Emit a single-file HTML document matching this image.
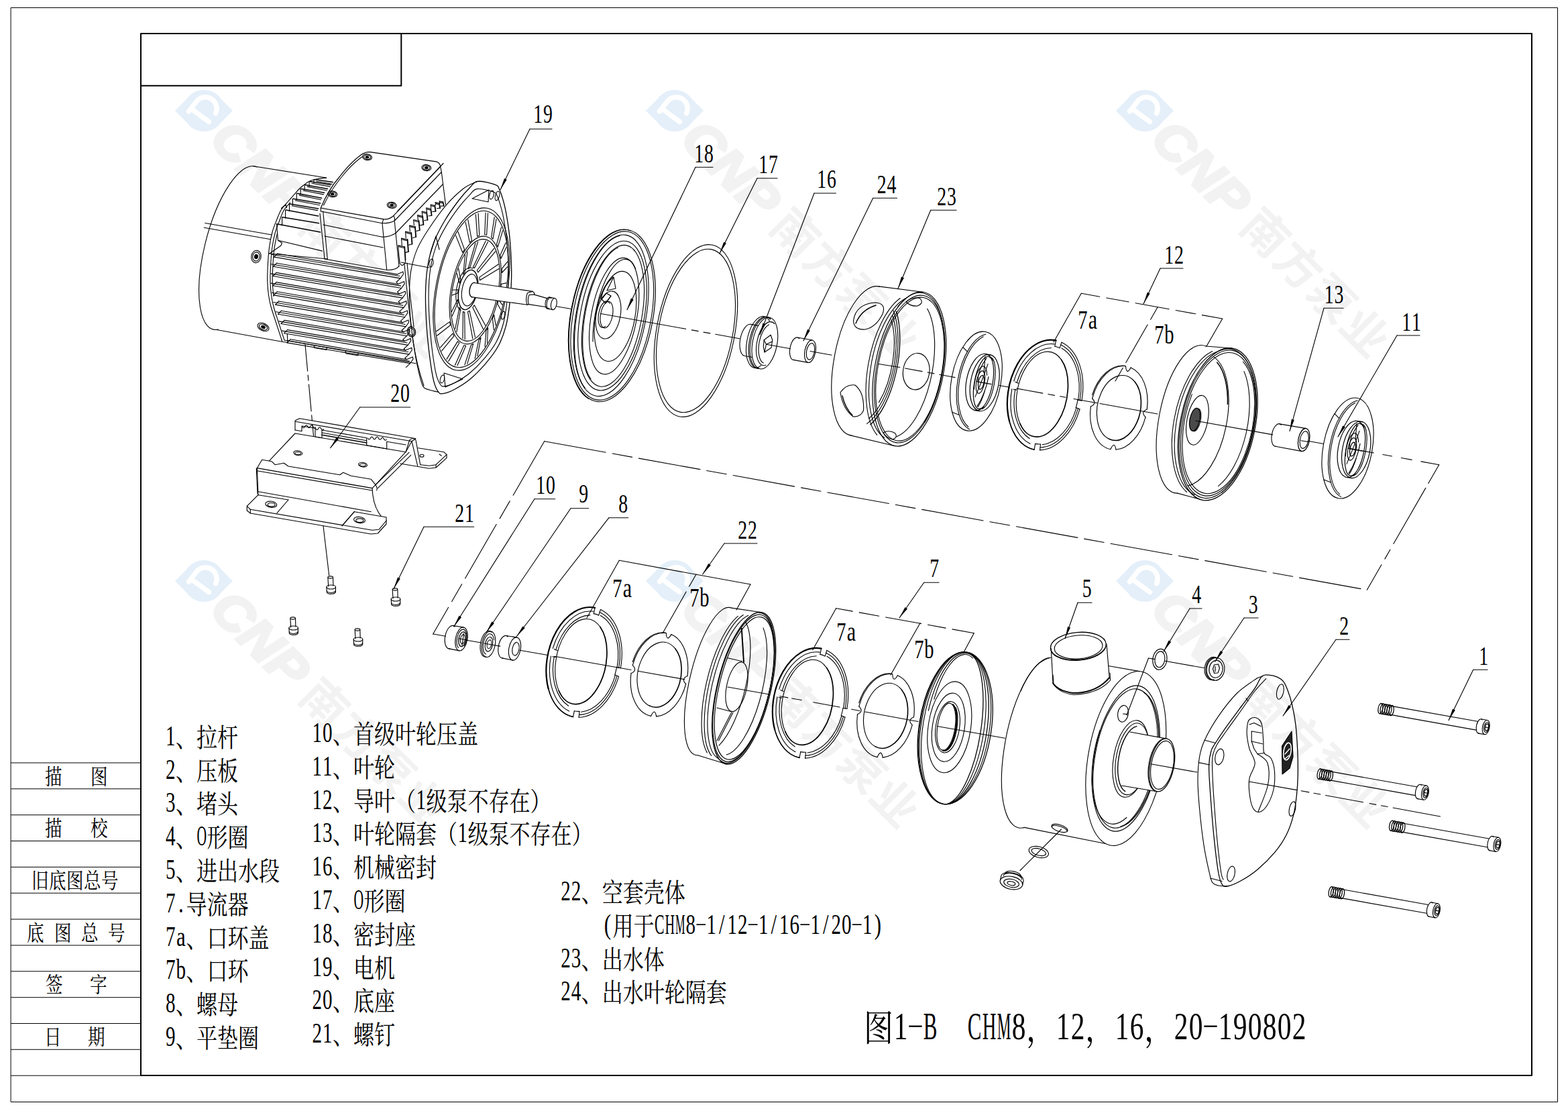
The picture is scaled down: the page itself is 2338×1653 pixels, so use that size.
<!DOCTYPE html><html><head><meta charset="utf-8"><title>CHM8,12,16,20 exploded view</title><style>html,body{margin:0;padding:0;background:#fff}svg{display:block}text{font-family:"Liberation Serif",serif;fill:#000;stroke:none}text.cj{font-family:"Liberation Serif","Noto Serif CJK SC",serif}</style></head><body><svg width="2338" height="1653" viewBox="0 0 2338 1653" fill="none" stroke="#000" stroke-width="1.12" stroke-linecap="round" stroke-linejoin="round"><rect width="2338" height="1653" fill="#fff" stroke="none"/><g transform="translate(304 165)" stroke="none">
<g fill="#e4eff9"><circle r="31"/><path d="M-43 0L-21.5 -21.5L-25.8 17.2Z"/><path d="M43 0L21.5 21.5L25.8 -17.2Z"/></g>
<path d="M-22.5 1L-9.8 -15.3A17 17 0 0 1 17.6 3.9M-16.5 -1L7.5 16.5" stroke="#fff" stroke-width="7.4" fill="none"/>
<g class="wm" transform="rotate(45)">
<text x="36" y="28" font-size="75" style="font-family:'Liberation Sans',sans-serif;font-weight:bold;font-style:italic;fill:#f2f2f2;stroke:#f2f2f2;stroke-width:4px;stroke-linejoin:miter" textLength="170" lengthAdjust="spacingAndGlyphs">CNP</text>
<text x="222" y="26" font-size="68" textLength="278" style="font-family:'Liberation Sans','Noto Sans CJK SC',sans-serif;font-weight:bold;fill:#f2f2f2">南方泵业</text>
</g></g>
<g transform="translate(1006 165)" stroke="none">
<g fill="#e4eff9"><circle r="31"/><path d="M-43 0L-21.5 -21.5L-25.8 17.2Z"/><path d="M43 0L21.5 21.5L25.8 -17.2Z"/></g>
<path d="M-22.5 1L-9.8 -15.3A17 17 0 0 1 17.6 3.9M-16.5 -1L7.5 16.5" stroke="#fff" stroke-width="7.4" fill="none"/>
<g class="wm" transform="rotate(45)">
<text x="36" y="28" font-size="75" style="font-family:'Liberation Sans',sans-serif;font-weight:bold;font-style:italic;fill:#f2f2f2;stroke:#f2f2f2;stroke-width:4px;stroke-linejoin:miter" textLength="170" lengthAdjust="spacingAndGlyphs">CNP</text>
<text x="222" y="26" font-size="68" textLength="278" style="font-family:'Liberation Sans','Noto Sans CJK SC',sans-serif;font-weight:bold;fill:#f2f2f2">南方泵业</text>
</g></g>
<g transform="translate(1707 165)" stroke="none">
<g fill="#e4eff9"><circle r="31"/><path d="M-43 0L-21.5 -21.5L-25.8 17.2Z"/><path d="M43 0L21.5 21.5L25.8 -17.2Z"/></g>
<path d="M-22.5 1L-9.8 -15.3A17 17 0 0 1 17.6 3.9M-16.5 -1L7.5 16.5" stroke="#fff" stroke-width="7.4" fill="none"/>
<g class="wm" transform="rotate(45)">
<text x="36" y="28" font-size="75" style="font-family:'Liberation Sans',sans-serif;font-weight:bold;font-style:italic;fill:#f2f2f2;stroke:#f2f2f2;stroke-width:4px;stroke-linejoin:miter" textLength="170" lengthAdjust="spacingAndGlyphs">CNP</text>
<text x="222" y="26" font-size="68" textLength="278" style="font-family:'Liberation Sans','Noto Sans CJK SC',sans-serif;font-weight:bold;fill:#f2f2f2">南方泵业</text>
</g></g>
<g transform="translate(304 866)" stroke="none">
<g fill="#e4eff9"><circle r="31"/><path d="M-43 0L-21.5 -21.5L-25.8 17.2Z"/><path d="M43 0L21.5 21.5L25.8 -17.2Z"/></g>
<path d="M-22.5 1L-9.8 -15.3A17 17 0 0 1 17.6 3.9M-16.5 -1L7.5 16.5" stroke="#fff" stroke-width="7.4" fill="none"/>
<g class="wm" transform="rotate(45)">
<text x="36" y="28" font-size="75" style="font-family:'Liberation Sans',sans-serif;font-weight:bold;font-style:italic;fill:#f2f2f2;stroke:#f2f2f2;stroke-width:4px;stroke-linejoin:miter" textLength="170" lengthAdjust="spacingAndGlyphs">CNP</text>
<text x="222" y="26" font-size="68" textLength="278" style="font-family:'Liberation Sans','Noto Sans CJK SC',sans-serif;font-weight:bold;fill:#f2f2f2">南方泵业</text>
</g></g>
<g transform="translate(1006 866)" stroke="none">
<g fill="#e4eff9"><circle r="31"/><path d="M-43 0L-21.5 -21.5L-25.8 17.2Z"/><path d="M43 0L21.5 21.5L25.8 -17.2Z"/></g>
<path d="M-22.5 1L-9.8 -15.3A17 17 0 0 1 17.6 3.9M-16.5 -1L7.5 16.5" stroke="#fff" stroke-width="7.4" fill="none"/>
<g class="wm" transform="rotate(45)">
<text x="36" y="28" font-size="75" style="font-family:'Liberation Sans',sans-serif;font-weight:bold;font-style:italic;fill:#f2f2f2;stroke:#f2f2f2;stroke-width:4px;stroke-linejoin:miter" textLength="170" lengthAdjust="spacingAndGlyphs">CNP</text>
<text x="222" y="26" font-size="68" textLength="278" style="font-family:'Liberation Sans','Noto Sans CJK SC',sans-serif;font-weight:bold;fill:#f2f2f2">南方泵业</text>
</g></g>
<g transform="translate(1707 866)" stroke="none">
<g fill="#e4eff9"><circle r="31"/><path d="M-43 0L-21.5 -21.5L-25.8 17.2Z"/><path d="M43 0L21.5 21.5L25.8 -17.2Z"/></g>
<path d="M-22.5 1L-9.8 -15.3A17 17 0 0 1 17.6 3.9M-16.5 -1L7.5 16.5" stroke="#fff" stroke-width="7.4" fill="none"/>
<g class="wm" transform="rotate(45)">
<text x="36" y="28" font-size="75" style="font-family:'Liberation Sans',sans-serif;font-weight:bold;font-style:italic;fill:#f2f2f2;stroke:#f2f2f2;stroke-width:4px;stroke-linejoin:miter" textLength="170" lengthAdjust="spacingAndGlyphs">CNP</text>
<text x="222" y="26" font-size="68" textLength="278" style="font-family:'Liberation Sans','Noto Sans CJK SC',sans-serif;font-weight:bold;fill:#f2f2f2">南方泵业</text>
</g></g>
<rect x="16.5" y="11.5" width="2306" height="1631" stroke-width="1"/>
<rect x="210" y="50" width="2074" height="1553" stroke-width="2"/>
<path d="M210 127.7H598.3V50" stroke-width="2"/>
<path d="M16.5 1137L210 1137" stroke-width="1"/>
<path d="M16.5 1175.8L210 1175.8" stroke-width="1"/>
<path d="M16.5 1214.7L210 1214.7" stroke-width="1"/>
<path d="M16.5 1253.5L210 1253.5" stroke-width="1"/>
<path d="M16.5 1292.4L210 1292.4" stroke-width="1"/>
<path d="M16.5 1331.2L210 1331.2" stroke-width="1"/>
<path d="M16.5 1370.1L210 1370.1" stroke-width="1"/>
<path d="M16.5 1409L210 1409" stroke-width="1"/>
<path d="M16.5 1447.8L210 1447.8" stroke-width="1"/>
<path d="M16.5 1486.7L210 1486.7" stroke-width="1"/>
<path d="M16.5 1525.5L210 1525.5" stroke-width="1"/>
<path d="M16.5 1564.3L210 1564.3" stroke-width="1"/>
<path d="M16.5 1603.2L210 1603.2" stroke-width="1"/>
<text class="cj" transform="translate(67 1168.5) scale(0.797 1)" x="0 85.3" font-size="32">描图</text>
<text class="cj" transform="translate(67 1246.2) scale(0.797 1)" x="0 85.3" font-size="32">描校</text>
<text class="cj" transform="translate(47 1323.9) scale(0.797 1)" x="0 32.6 65.2 97.9 130.5" font-size="32">旧底图总号</text>
<text class="cj" transform="translate(40 1401.6) scale(0.797 1)" x="0 51.4 101.6 151.8" font-size="32">底图总号</text>
<text class="cj" transform="translate(68 1479.3) scale(0.797 1)" x="0 82.8" font-size="32">签字</text>
<text class="cj" transform="translate(66 1557) scale(0.797 1)" x="0 81.6" font-size="32">日期</text>
<text transform="translate(254.2 1110.8) scale(0.701 1)" font-size="41.5" text-anchor="middle">1</text>
<text class="cj" transform="translate(262 1112.8) scale(0.8 1)" font-size="38.75">、拉杆</text>
<text transform="translate(254.2 1160.6) scale(0.701 1)" font-size="41.5" text-anchor="middle">2</text>
<text class="cj" transform="translate(262 1162.6) scale(0.8 1)" font-size="38.75">、压板</text>
<text transform="translate(254.2 1210.4) scale(0.701 1)" font-size="41.5" text-anchor="middle">3</text>
<text class="cj" transform="translate(262 1212.4) scale(0.8 1)" font-size="38.75">、堵头</text>
<text transform="translate(254.2 1260.2) scale(0.701 1)" font-size="41.5" text-anchor="middle">4</text>
<text class="cj" transform="translate(262 1262.2) scale(0.8 1)" font-size="38.75">、</text>
<text transform="translate(300.8 1260.2) scale(0.486 1)" font-size="41.5" text-anchor="middle">O</text>
<text class="cj" transform="translate(308.5 1262.2) scale(0.8 1)" font-size="38.75">形圈</text>
<text transform="translate(254.2 1310) scale(0.701 1)" font-size="41.5" text-anchor="middle">5</text>
<text class="cj" transform="translate(262 1312) scale(0.8 1)" font-size="38.75">、进出水段</text>
<text transform="translate(254.2 1359.8) scale(0.701 1)" font-size="41.5" text-anchor="middle">7</text>
<text transform="translate(269.8 1359.8) scale(0.746 1)" font-size="41.5" text-anchor="middle">.</text>
<text class="cj" transform="translate(277.5 1361.8) scale(0.8 1)" font-size="38.75">导流器</text>
<text transform="translate(254.2 1409.6) scale(0.701 1)" font-size="41.5" text-anchor="middle">7</text>
<text transform="translate(269.8 1409.6) scale(0.746 1)" font-size="41.5" text-anchor="middle">a</text>
<text class="cj" transform="translate(277.5 1411.6) scale(0.8 1)" font-size="38.75">、口环盖</text>
<text transform="translate(254.2 1459.4) scale(0.701 1)" font-size="41.5" text-anchor="middle">7</text>
<text transform="translate(269.8 1459.4) scale(0.701 1)" font-size="41.5" text-anchor="middle">b</text>
<text class="cj" transform="translate(277.5 1461.4) scale(0.8 1)" font-size="38.75">、口环</text>
<text transform="translate(254.2 1509.2) scale(0.701 1)" font-size="41.5" text-anchor="middle">8</text>
<text class="cj" transform="translate(262 1511.2) scale(0.8 1)" font-size="38.75">、螺母</text>
<text transform="translate(254.2 1559) scale(0.701 1)" font-size="41.5" text-anchor="middle">9</text>
<text class="cj" transform="translate(262 1561) scale(0.8 1)" font-size="38.75">、平垫圈</text>
<text transform="translate(472.8 1106) scale(0.701 1)" font-size="41.5" text-anchor="middle">1</text>
<text transform="translate(488.2 1106) scale(0.701 1)" font-size="41.5" text-anchor="middle">0</text>
<text class="cj" transform="translate(496 1108) scale(0.8 1)" font-size="38.75">、首级叶轮压盖</text>
<text transform="translate(472.8 1155.8) scale(0.701 1)" font-size="41.5" text-anchor="middle">1</text>
<text transform="translate(488.2 1155.8) scale(0.701 1)" font-size="41.5" text-anchor="middle">1</text>
<text class="cj" transform="translate(496 1157.8) scale(0.8 1)" font-size="38.75">、叶轮</text>
<text transform="translate(472.8 1205.6) scale(0.701 1)" font-size="41.5" text-anchor="middle">1</text>
<text transform="translate(488.2 1205.6) scale(0.701 1)" font-size="41.5" text-anchor="middle">2</text>
<text class="cj" transform="translate(496 1207.6) scale(0.8 1)" font-size="38.75">、导叶（</text>
<text transform="translate(627.8 1205.6) scale(0.701 1)" font-size="41.5" text-anchor="middle">1</text>
<text class="cj" transform="translate(635.5 1207.6) scale(0.8 1)" font-size="38.75">级泵不存在）</text>
<text transform="translate(472.8 1255.4) scale(0.701 1)" font-size="41.5" text-anchor="middle">1</text>
<text transform="translate(488.2 1255.4) scale(0.701 1)" font-size="41.5" text-anchor="middle">3</text>
<text class="cj" transform="translate(496 1257.4) scale(0.8 1)" font-size="38.75">、叶轮隔套（</text>
<text transform="translate(689.8 1255.4) scale(0.701 1)" font-size="41.5" text-anchor="middle">1</text>
<text class="cj" transform="translate(697.5 1257.4) scale(0.8 1)" font-size="38.75">级泵不存在）</text>
<text transform="translate(472.8 1305.2) scale(0.701 1)" font-size="41.5" text-anchor="middle">1</text>
<text transform="translate(488.2 1305.2) scale(0.701 1)" font-size="41.5" text-anchor="middle">6</text>
<text class="cj" transform="translate(496 1307.2) scale(0.8 1)" font-size="38.75">、机械密封</text>
<text transform="translate(472.8 1355) scale(0.701 1)" font-size="41.5" text-anchor="middle">1</text>
<text transform="translate(488.2 1355) scale(0.701 1)" font-size="41.5" text-anchor="middle">7</text>
<text class="cj" transform="translate(496 1357) scale(0.8 1)" font-size="38.75">、</text>
<text transform="translate(534.8 1355) scale(0.486 1)" font-size="41.5" text-anchor="middle">O</text>
<text class="cj" transform="translate(542.5 1357) scale(0.8 1)" font-size="38.75">形圈</text>
<text transform="translate(472.8 1404.8) scale(0.701 1)" font-size="41.5" text-anchor="middle">1</text>
<text transform="translate(488.2 1404.8) scale(0.701 1)" font-size="41.5" text-anchor="middle">8</text>
<text class="cj" transform="translate(496 1406.8) scale(0.8 1)" font-size="38.75">、密封座</text>
<text transform="translate(472.8 1454.6) scale(0.701 1)" font-size="41.5" text-anchor="middle">1</text>
<text transform="translate(488.2 1454.6) scale(0.701 1)" font-size="41.5" text-anchor="middle">9</text>
<text class="cj" transform="translate(496 1456.6) scale(0.8 1)" font-size="38.75">、电机</text>
<text transform="translate(472.8 1504.4) scale(0.701 1)" font-size="41.5" text-anchor="middle">2</text>
<text transform="translate(488.2 1504.4) scale(0.701 1)" font-size="41.5" text-anchor="middle">0</text>
<text class="cj" transform="translate(496 1506.4) scale(0.8 1)" font-size="38.75">、底座</text>
<text transform="translate(472.8 1554.2) scale(0.701 1)" font-size="41.5" text-anchor="middle">2</text>
<text transform="translate(488.2 1554.2) scale(0.701 1)" font-size="41.5" text-anchor="middle">1</text>
<text class="cj" transform="translate(496 1556.2) scale(0.8 1)" font-size="38.75">、螺钉</text>
<text transform="translate(843.5 1342) scale(0.701 1)" font-size="41.5" text-anchor="middle">2</text>
<text transform="translate(859 1342) scale(0.701 1)" font-size="41.5" text-anchor="middle">2</text>
<text class="cj" transform="translate(866.7 1344) scale(0.8 1)" font-size="38.75">、空套壳体</text>
<text transform="translate(905.8 1391.8) scale(0.746 1)" font-size="41.5" text-anchor="middle">(</text>
<text class="cj" transform="translate(913.5 1393.8) scale(0.8 1)" font-size="38.75">用于</text>
<text transform="translate(983.2 1391.8) scale(0.526 1)" font-size="41.5" text-anchor="middle">C</text>
<text transform="translate(998.8 1391.8) scale(0.486 1)" font-size="41.5" text-anchor="middle">H</text>
<text transform="translate(1014.2 1391.8) scale(0.394 1)" font-size="41.5" text-anchor="middle">M</text>
<text transform="translate(1029.8 1391.8) scale(0.701 1)" font-size="41.5" text-anchor="middle">8</text>
<path d="M1038.4 1378.1H1052.1" stroke-width="1.7" stroke-linecap="butt"/>
<text transform="translate(1060.8 1391.8) scale(0.701 1)" font-size="41.5" text-anchor="middle">1</text>
<text transform="translate(1076.2 1391.8) scale(0.746 1)" font-size="41.5" text-anchor="middle">/</text>
<text transform="translate(1091.8 1391.8) scale(0.701 1)" font-size="41.5" text-anchor="middle">1</text>
<text transform="translate(1107.2 1391.8) scale(0.701 1)" font-size="41.5" text-anchor="middle">2</text>
<path d="M1115.9 1378.1H1129.6" stroke-width="1.7" stroke-linecap="butt"/>
<text transform="translate(1138.2 1391.8) scale(0.701 1)" font-size="41.5" text-anchor="middle">1</text>
<text transform="translate(1153.8 1391.8) scale(0.746 1)" font-size="41.5" text-anchor="middle">/</text>
<text transform="translate(1169.2 1391.8) scale(0.701 1)" font-size="41.5" text-anchor="middle">1</text>
<text transform="translate(1184.8 1391.8) scale(0.701 1)" font-size="41.5" text-anchor="middle">6</text>
<path d="M1193.4 1378.1H1207.1" stroke-width="1.7" stroke-linecap="butt"/>
<text transform="translate(1215.8 1391.8) scale(0.701 1)" font-size="41.5" text-anchor="middle">1</text>
<text transform="translate(1231.2 1391.8) scale(0.746 1)" font-size="41.5" text-anchor="middle">/</text>
<text transform="translate(1246.8 1391.8) scale(0.701 1)" font-size="41.5" text-anchor="middle">2</text>
<text transform="translate(1262.2 1391.8) scale(0.701 1)" font-size="41.5" text-anchor="middle">0</text>
<path d="M1270.9 1378.1H1284.6" stroke-width="1.7" stroke-linecap="butt"/>
<text transform="translate(1293.2 1391.8) scale(0.701 1)" font-size="41.5" text-anchor="middle">1</text>
<text transform="translate(1308.8 1391.8) scale(0.746 1)" font-size="41.5" text-anchor="middle">)</text>
<text transform="translate(843.5 1441.6) scale(0.701 1)" font-size="41.5" text-anchor="middle">2</text>
<text transform="translate(859 1441.6) scale(0.701 1)" font-size="41.5" text-anchor="middle">3</text>
<text class="cj" transform="translate(866.7 1443.6) scale(0.8 1)" font-size="38.75">、出水体</text>
<text transform="translate(843.5 1491.4) scale(0.701 1)" font-size="41.5" text-anchor="middle">2</text>
<text transform="translate(859 1491.4) scale(0.701 1)" font-size="41.5" text-anchor="middle">4</text>
<text class="cj" transform="translate(866.7 1493.4) scale(0.8 1)" font-size="38.75">、出水叶轮隔套</text>
<text class="cj" transform="translate(1288 1551.7) scale(0.815 1)" font-size="54">图</text>
<text transform="translate(1343 1548.7) scale(0.721 1)" font-size="57.4" text-anchor="middle">1</text>
<path d="M1355.3 1529.7H1374.7" stroke-width="2.3" stroke-linecap="butt"/>
<text transform="translate(1387 1548.7) scale(0.540 1)" font-size="57.4" text-anchor="middle">B</text>
<text transform="translate(1453 1548.7) scale(0.540 1)" font-size="57.4" text-anchor="middle">C</text>
<text transform="translate(1475 1548.7) scale(0.499 1)" font-size="57.4" text-anchor="middle">H</text>
<text transform="translate(1497 1548.7) scale(0.405 1)" font-size="57.4" text-anchor="middle">M</text>
<text transform="translate(1519 1548.7) scale(0.721 1)" font-size="57.4" text-anchor="middle">8</text>
<text class="cj" transform="translate(1530 1551.7) scale(0.815 1)" font-size="54">，</text>
<text transform="translate(1585 1548.7) scale(0.721 1)" font-size="57.4" text-anchor="middle">1</text>
<text transform="translate(1607 1548.7) scale(0.721 1)" font-size="57.4" text-anchor="middle">2</text>
<text class="cj" transform="translate(1618 1551.7) scale(0.815 1)" font-size="54">，</text>
<text transform="translate(1673 1548.7) scale(0.721 1)" font-size="57.4" text-anchor="middle">1</text>
<text transform="translate(1695 1548.7) scale(0.721 1)" font-size="57.4" text-anchor="middle">6</text>
<text class="cj" transform="translate(1706 1551.7) scale(0.815 1)" font-size="54">，</text>
<text transform="translate(1761 1548.7) scale(0.721 1)" font-size="57.4" text-anchor="middle">2</text>
<text transform="translate(1783 1548.7) scale(0.721 1)" font-size="57.4" text-anchor="middle">0</text>
<path d="M1795.3 1529.7H1814.7" stroke-width="2.3" stroke-linecap="butt"/>
<text transform="translate(1827 1548.7) scale(0.721 1)" font-size="57.4" text-anchor="middle">1</text>
<text transform="translate(1849 1548.7) scale(0.721 1)" font-size="57.4" text-anchor="middle">9</text>
<text transform="translate(1871 1548.7) scale(0.721 1)" font-size="57.4" text-anchor="middle">0</text>
<text transform="translate(1893 1548.7) scale(0.721 1)" font-size="57.4" text-anchor="middle">8</text>
<text transform="translate(1915 1548.7) scale(0.721 1)" font-size="57.4" text-anchor="middle">0</text>
<text transform="translate(1937 1548.7) scale(0.721 1)" font-size="57.4" text-anchor="middle">2</text>
<text transform="translate(802.3 183) scale(0.677 1)" font-size="41" text-anchor="middle">1</text>
<text transform="translate(816.9 183) scale(0.677 1)" font-size="41" text-anchor="middle">9</text>
<path d="M790 192.3L823 192.3"/>
<path d="M790 192.3L746 283"/>
<path d="M746 283L752 265.9L755.7 267.7Z" fill="#000" stroke="none"/>
<text transform="translate(1042.3 241.5) scale(0.677 1)" font-size="41" text-anchor="middle">1</text>
<text transform="translate(1056.9 241.5) scale(0.677 1)" font-size="41" text-anchor="middle">8</text>
<path d="M1037 249.3L1063 249.3"/>
<path d="M1037 249.3L935 461.7"/>
<path d="M935 461.7L940.9 444.6L944.7 446.4Z" fill="#000" stroke="none"/>
<text transform="translate(1138.3 258) scale(0.677 1)" font-size="41" text-anchor="middle">1</text>
<text transform="translate(1152.9 258) scale(0.677 1)" font-size="41" text-anchor="middle">7</text>
<path d="M1129 265.7L1159 265.7"/>
<path d="M1129 265.7L1073 377.7"/>
<path d="M1073 377.7L1079.2 360.7L1082.9 362.5Z" fill="#000" stroke="none"/>
<text transform="translate(1225.3 280) scale(0.677 1)" font-size="41" text-anchor="middle">1</text>
<text transform="translate(1239.9 280) scale(0.677 1)" font-size="41" text-anchor="middle">6</text>
<path d="M1214 288L1246.5 288"/>
<path d="M1214 288L1133 499"/>
<path d="M1133 499L1137.5 481.4L1141.4 482.9Z" fill="#000" stroke="none"/>
<text transform="translate(1314.8 288) scale(0.677 1)" font-size="41" text-anchor="middle">2</text>
<text transform="translate(1329.4 288) scale(0.677 1)" font-size="41" text-anchor="middle">4</text>
<path d="M1301.7 295.3L1337.5 295.3"/>
<path d="M1301.7 295.3L1198 508"/>
<path d="M1198 508L1204 490.9L1207.8 492.7Z" fill="#000" stroke="none"/>
<text transform="translate(1404.3 306) scale(0.677 1)" font-size="41" text-anchor="middle">2</text>
<text transform="translate(1418.9 306) scale(0.677 1)" font-size="41" text-anchor="middle">3</text>
<path d="M1387.7 313.3L1426 313.3"/>
<path d="M1387.7 313.3L1339 430"/>
<path d="M1339 430L1344 412.6L1347.9 414.2Z" fill="#000" stroke="none"/>
<text transform="translate(1743.3 392.7) scale(0.677 1)" font-size="41" text-anchor="middle">1</text>
<text transform="translate(1757.9 392.7) scale(0.677 1)" font-size="41" text-anchor="middle">2</text>
<path d="M1730 400L1764 400"/>
<path d="M1730 400L1705 453"/>
<path d="M1705 453L1710.8 435.8L1714.6 437.6Z" fill="#000" stroke="none"/>
<text transform="translate(1981.8 452) scale(0.677 1)" font-size="41" text-anchor="middle">1</text>
<text transform="translate(1996.4 452) scale(0.677 1)" font-size="41" text-anchor="middle">3</text>
<path d="M1974 459.3L2003 459.3"/>
<path d="M1974 459.3L1923 642.7"/>
<path d="M1923 642.7L1925.8 624.8L1929.8 625.9Z" fill="#000" stroke="none"/>
<text transform="translate(2097.3 493) scale(0.677 1)" font-size="41" text-anchor="middle">1</text>
<text transform="translate(2111.9 493) scale(0.677 1)" font-size="41" text-anchor="middle">1</text>
<path d="M2083 500L2117 500"/>
<path d="M2083 500L1995 651"/>
<path d="M1995 651L2002.2 634.4L2005.9 636.5Z" fill="#000" stroke="none"/>
<text transform="translate(589.3 599.3) scale(0.677 1)" font-size="41" text-anchor="middle">2</text>
<text transform="translate(603.9 599.3) scale(0.677 1)" font-size="41" text-anchor="middle">0</text>
<path d="M536.7 607L611.7 607"/>
<path d="M536.7 607L492.7 667.7"/>
<path d="M492.7 667.7L501.6 651.9L505 654.4Z" fill="#000" stroke="none"/>
<text transform="translate(685.3 778) scale(0.677 1)" font-size="41" text-anchor="middle">2</text>
<text transform="translate(699.9 778) scale(0.677 1)" font-size="41" text-anchor="middle">1</text>
<path d="M632 785.3L706.7 785.3"/>
<path d="M632 785.3L587 877.7"/>
<path d="M587 877.7L593 860.6L596.8 862.4Z" fill="#000" stroke="none"/>
<text transform="translate(806.3 736) scale(0.677 1)" font-size="41" text-anchor="middle">1</text>
<text transform="translate(820.9 736) scale(0.677 1)" font-size="41" text-anchor="middle">0</text>
<path d="M797 743.7L827.7 743.7"/>
<path d="M797 743.7L676.7 934"/>
<path d="M676.7 934L684.5 917.7L688.1 919.9Z" fill="#000" stroke="none"/>
<text transform="translate(870.3 749) scale(0.677 1)" font-size="41" text-anchor="middle">9</text>
<path d="M851 757.7L877.7 757.7"/>
<path d="M851 757.7L725 942.7"/>
<path d="M725 942.7L733.4 926.6L736.9 929Z" fill="#000" stroke="none"/>
<text transform="translate(929.3 763.7) scale(0.677 1)" font-size="41" text-anchor="middle">8</text>
<path d="M908 771.7L936.7 771.7"/>
<path d="M908 771.7L770 949"/>
<path d="M770 949L779.4 933.5L782.7 936.1Z" fill="#000" stroke="none"/>
<text transform="translate(1107.3 802.7) scale(0.677 1)" font-size="41" text-anchor="middle">2</text>
<text transform="translate(1121.9 802.7) scale(0.677 1)" font-size="41" text-anchor="middle">2</text>
<path d="M1080 810L1129 810"/>
<path d="M1080 810L1047.7 856"/>
<path d="M1047.7 856L1056.3 840.1L1059.8 842.5Z" fill="#000" stroke="none"/>
<text transform="translate(1393.3 860) scale(0.677 1)" font-size="41" text-anchor="middle">7</text>
<path d="M1377.7 868.3L1400 868.3"/>
<path d="M1377.7 868.3L1341 921"/>
<path d="M1341 921L1349.6 905L1353 907.4Z" fill="#000" stroke="none"/>
<text transform="translate(1620.8 890) scale(0.677 1)" font-size="41" text-anchor="middle">5</text>
<path d="M1607 898.3L1628 898.3"/>
<path d="M1607 898.3L1588 951.7"/>
<path d="M1588 951.7L1592.1 934L1596 935.4Z" fill="#000" stroke="none"/>
<text transform="translate(1784.3 899) scale(0.677 1)" font-size="41" text-anchor="middle">4</text>
<path d="M1774 907L1792 907"/>
<path d="M1774 907L1735 971"/>
<path d="M1735 971L1742.6 954.5L1746.2 956.7Z" fill="#000" stroke="none"/>
<text transform="translate(1868.8 913.7) scale(0.677 1)" font-size="41" text-anchor="middle">3</text>
<path d="M1855 921L1876 921"/>
<path d="M1855 921L1811.7 986"/>
<path d="M1811.7 986L1819.9 969.9L1823.4 972.2Z" fill="#000" stroke="none"/>
<text transform="translate(2004.3 946) scale(0.677 1)" font-size="41" text-anchor="middle">2</text>
<path d="M1992 953.3L2012 953.3"/>
<path d="M1992 953.3L1913 1067"/>
<path d="M1913 1067L1921.5 1051L1925 1053.4Z" fill="#000" stroke="none"/>
<text transform="translate(2212.3 991) scale(0.677 1)" font-size="41" text-anchor="middle">1</text>
<path d="M2196.7 998.3L2218 998.3"/>
<path d="M2196.7 998.3L2160 1073.7"/>
<path d="M2160 1073.7L2166 1056.6L2169.8 1058.4Z" fill="#000" stroke="none"/>
<text transform="translate(1614.5 490) scale(0.695 1)" font-size="41" text-anchor="middle">7</text>
<text transform="translate(1629.5 490) scale(0.732 1)" font-size="41" text-anchor="middle">a</text>
<text transform="translate(1728.5 512) scale(0.695 1)" font-size="41" text-anchor="middle">7</text>
<text transform="translate(1743.5 512) scale(0.695 1)" font-size="41" text-anchor="middle">b</text>
<text transform="translate(920.5 890) scale(0.695 1)" font-size="41" text-anchor="middle">7</text>
<text transform="translate(935.5 890) scale(0.732 1)" font-size="41" text-anchor="middle">a</text>
<text transform="translate(1035.5 904) scale(0.695 1)" font-size="41" text-anchor="middle">7</text>
<text transform="translate(1050.5 904) scale(0.695 1)" font-size="41" text-anchor="middle">b</text>
<text transform="translate(1254.5 955) scale(0.695 1)" font-size="41" text-anchor="middle">7</text>
<text transform="translate(1269.5 955) scale(0.732 1)" font-size="41" text-anchor="middle">a</text>
<text transform="translate(1370.5 981) scale(0.695 1)" font-size="41" text-anchor="middle">7</text>
<text transform="translate(1385.5 981) scale(0.695 1)" font-size="41" text-anchor="middle">b</text>
<path d="M1612.3 437.3L1822.7 475" stroke-dasharray="28 10 34 10 51 10 30 10 31"/>
<path d="M1612.3 437.3L1571 510"/>
<path d="M1726 458L1663 568" stroke-dasharray="21 9 65 9 40"/>
<path d="M1822.7 475L1799 516"/>
<path d="M923.3 835.3L1119 871"/>
<path d="M923.3 835.3L875 921"/>
<path d="M1038 856L988 944" stroke-dasharray="21 9 71"/>
<path d="M1119 871L1098 909"/>
<path d="M1246.7 906.7L1452.3 943.7" stroke-dasharray="25 10 30 10 54 10 27 10 33"/>
<path d="M1246.7 906.7L1211.7 968.7"/>
<path d="M1372 928.7L1328 1006"/>
<path d="M1452.3 943.7L1436.7 972.7"/>
<path d="M2145.7 692.7L2038.3 879.3" stroke-dasharray="32 8 96 10 16 10 60"/>
<path d="M811.7 657.7L2038.3 879.3" stroke-dasharray="93 10 30 10"/>
<path d="M811.7 657.7L645.7 945" stroke-dasharray="93 10 30 10"/>
<ellipse cx="912.7" cy="470.5" rx="60.8" ry="130" transform="rotate(10.7 912.7 470.5)" stroke-width="1.2"/>
<path d="M877.5 594.2A60.1 130 10.7 0 1 940.7 344"/>
<ellipse cx="912.8" cy="470.6" rx="58" ry="127.5" transform="rotate(10.7 912.8 470.6)"/>
<ellipse cx="911.2" cy="470.3" rx="51.9" ry="122" transform="rotate(10.7 911.2 470.3)"/>
<path d="M872.4 578.7A49.6 121 10.7 0 1 923.9 351.4"/>
<ellipse cx="913" cy="470.6" rx="47.5" ry="113" transform="rotate(10.7 913 470.6)"/>
<ellipse cx="914" cy="470.8" rx="42.8" ry="107" transform="rotate(10.7 914 470.8)"/>
<path d="M881.1 565A40.4 105 10.7 0 1 921.5 369"/>
<ellipse cx="915.7" cy="471.1" rx="33.9" ry="88" transform="rotate(10.7 915.7 471.1)"/>
<path d="M884 509.1A31.1 86.5 10.7 0 1 947.7 400.9"/>
<ellipse cx="917.5" cy="471.4" rx="29.2" ry="68" transform="rotate(10.7 917.5 471.4)"/>
<ellipse cx="907" cy="469.5" rx="18" ry="36" transform="rotate(10.7 907 469.5)"/>
<ellipse cx="904.5" cy="469.1" rx="8.9" ry="20" transform="rotate(10.7 904.5 469.1)"/>
<path d="M902.7 486.4A8.9 20 10.7 1 1 909.1 452.3"/>
<path d="M915 413L918 430L905 433L915 413"/>
<path d="M897 446L904 437L911 441L903 452L897 446" stroke-width="1.4"/>
<path d="M914 413Q900 425 896 445" stroke-width="1.6"/>
<ellipse cx="1037.5" cy="493" rx="58.2" ry="130.2" transform="rotate(10.7 1037.5 493)"/>
<ellipse cx="1037.5" cy="493" rx="55.2" ry="123.5" transform="rotate(10.7 1037.5 493)"/>
<path d="M1109.6 530.3A11.3 24 10.7 0 1 1120.4 483.6"/>
<path d="M1119.5 483.4L1130.5 485.4"/>
<path d="M1110.5 530.5L1121.5 532.5"/>
<path d="M1134.7 544.9A18.3 39 10.7 1 1 1147.3 478.5"/>
<path d="M1131.5 549A18.3 39 10.7 1 1 1148.5 475.8"/>
<path d="M1131.9 549.5A18.3 39 10.7 1 1 1149.2 474.9"/>
<ellipse cx="1140.4" cy="511.5" rx="18.3" ry="39" transform="rotate(10.7 1140.4 511.5)"/>
<path d="M1142 544.2A15.5 33 10.7 1 1 1155 482.7"/>
<path d="M1138.1 541.1A14.1 30 10.7 0 1 1146.5 483.9"/>
<path d="M1149.2 499.2L1151.7 506.7L1150 518.3L1140 525L1138.3 516.7L1139.2 506.7Z"/>
<path d="M1139.2 506.7L1142.5 513.3L1140 525"/>
<path d="M1142.5 513.3L1151.7 509"/>
<path d="M1184.3 536.4A8 17 10.7 1 1 1191.7 504.6"/>
<ellipse cx="1208" cy="523.7" rx="8" ry="17" transform="rotate(10.7 1208 523.7)"/>
<ellipse cx="1208.5" cy="523.8" rx="5.9" ry="12.5" transform="rotate(10.7 1208.5 523.8)"/>
<path d="M1189.2 503L1211.2 507"/>
<path d="M1182.8 536.4L1204.8 540.4"/>
<path d="M1269.8 649.2A45.8 113 10.7 1 1 1311.7 427.2"/>
<path d="M1310.2 426.9L1377.4 435.5"/>
<path d="M1268.2 648.9L1334.2 664.7"/>
<ellipse cx="1355.8" cy="550.1" rx="51.3" ry="116.6" transform="rotate(10.7 1355.8 550.1)" stroke-width="1.2"/>
<path d="M1338.7 457.2A50.6 115 10.7 0 1 1378.7 629.6"/>
<ellipse cx="1356.3" cy="550.1" rx="49.1" ry="111.5" transform="rotate(10.7 1356.3 550.1)"/>
<ellipse cx="1356.8" cy="550.1" rx="47.7" ry="108.5" transform="rotate(10.7 1356.8 550.1)"/>
<path d="M1318.7 652.5A48 109 10.7 0 1 1349.7 444.9"/>
<path d="M1307.7 648.4A49.3 112 10.7 0 1 1342.2 444.5"/>
<path d="M1382.7 460.2A46.6 106 10.7 0 1 1336.7 650.9"/>
<path d="M1332 462.7A44 100 10.7 0 1 1292.6 631.6"/>
<path d="M1330.8 470.4A41.4 94 10.7 0 1 1295.7 623.7"/>
<path d="M1336.5 464.3A46.6 106 10.7 0 1 1297.9 633" stroke-width="1.3"/>
<path d="M1329 476.9A38.7 88 10.7 0 1 1310.6 599.6"/>
<ellipse cx="1366.2" cy="553.7" rx="19.7" ry="27.3" transform="rotate(8 1366.2 553.7)"/>
<path d="M1272.5 478Q1276 453 1305 451Q1322 452 1316 468Q1306 488 1290 491Q1273 492 1272.5 478Z"/>
<path d="M1276 482Q1284 462 1306 455" stroke-width="1.4"/>
<path d="M1253 585Q1262 572 1275 574Q1289 585 1287.5 612Q1283 622 1272 621Q1257 610 1253 585Z"/>
<path d="M1256 590Q1260 608 1271 619" stroke-width="1.4"/>
<path d="M1351 450Q1362 441 1372 445Q1378 452 1368 456Q1358 457 1351 450Z"/>
<path d="M1317 645Q1326 640 1335 646Q1339 652 1331 655Q1322 653 1317 645Z"/>
<path d="M1310 542.5L1341.7 547.5"/>
<ellipse cx="1455.5" cy="568.2" rx="36.8" ry="75" transform="rotate(10.7 1455.5 568.2)"/>
<path d="M1445.7 639.9A35.8 73 10.7 0 1 1469.9 498.2"/>
<path d="M1443.8 636.2A35 71.5 10.7 0 1 1466.2 501.8"/>
<path d="M1419.9 614.5L1430.4 618.6"/>
<path d="M1435.6 517.5L1442.4 524.1"/>
<path d="M1467.1 606.2A20.9 42.7 10.7 1 1 1480.1 537.5" stroke-width="1.2"/>
<ellipse cx="1468.2" cy="570.6" rx="20.9" ry="42.7" transform="rotate(10.7 1468.2 570.6)" stroke-width="1.2"/>
<path d="M1470.4 527.9L1477.4 529.2"/>
<path d="M1453.2 611.4L1460.2 612.7"/>
<ellipse cx="1466.5" cy="570.4" rx="13.5" ry="39.6" transform="rotate(10.7 1466.5 570.4)" stroke-width="1.2"/>
<path d="M1478.5 533A13.5 39.6 10.7 0 1 1464.1 609.6"/>
<ellipse cx="1462" cy="569.6" rx="6.1" ry="17" transform="rotate(10.7 1462 569.6)"/>
<ellipse cx="1463" cy="569.9" rx="4.2" ry="10.5" transform="rotate(10.7 1463 569.9)" stroke-width="1.3"/>
<path d="M1452.4 580.1A8.6 24 10.7 0 1 1471.6 559.2"/>
<path d="M1471 533.6Q1458 551.6 1458 567.6"/>
<path d="M1473 542.6Q1466 563.6 1454 591.6"/>
<path d="M1474 561.6Q1469 587.6 1457 605.6"/>
<path d="M1468 583.6Q1464 597.6 1458 606.6"/>
<path d="M1469 531.6L1467 555.6"/>
<path d="M1456 568.6L1478 572.6"/>
<path d="M1610 609.9A55.2 83 11 0 1 1550.6 670.9"/>
<path d="M1542 670.2A55.2 83 11 0 1 1502 607.5"/>
<path d="M1582.9 510.2A55.2 83 11 0 1 1612.9 597.2"/>
<path d="M1505.2 628.2A55.2 83 11 0 1 1574.6 507.4" stroke-width="2.2"/>
<path d="M1542 670.2A55.2 83 11 0 1 1505.2 628.2" stroke-width="1.5"/>
<path d="M1612.9 597.2L1607 596.3"/>
<path d="M1610 609.9L1604.3 607.6"/>
<path d="M1607 596.3A49.2 74 11 0 1 1604.3 607.6"/>
<path d="M1550.6 670.9L1551.5 662"/>
<path d="M1542 670.2L1543.8 661.4"/>
<path d="M1551.5 662A49.2 74 11 0 1 1543.8 661.4"/>
<path d="M1574.6 507.4L1572.8 516.2"/>
<path d="M1582.9 510.2L1580.2 518.7"/>
<path d="M1572.8 516.2A49.2 74 11 0 1 1580.2 518.7"/>
<path d="M1511.2 580.3L1515.8 581.1"/>
<path d="M1513.8 569.3L1518.2 571.2"/>
<path d="M1581.7 514A52.5 79 11 0 1 1610.2 596.8"/>
<path d="M1607.5 608.9A52.5 79 11 0 1 1551 667"/>
<path d="M1582.9 519A49.9 75 11 0 1 1607.6 596.4"/>
<path d="M1605 607.8A49.9 75 11 0 1 1554 662.8"/>
<path d="M1536.1 661.5A51.2 77 11 0 1 1508.9 579.7"/>
<path d="M1511.8 568A51.2 77 11 0 1 1572.2 512.9"/>
<path d="M1535.2 653.8A47.2 71 11 0 1 1513.8 580.4"/>
<path d="M1516.5 569.6A47.2 71 11 0 1 1567.3 518.5"/>
<path d="M1520.8 631.2A37.3 64.3 11 0 1 1582.6 536.3"/>
<path d="M1582.6 536.3A37.3 64.3 11 1 1 1520.8 631.2" stroke-width="1.7"/>
<path d="M1708 621.8A41.8 63 11 0 1 1664 670.2"/>
<path d="M1655.9 669.7A41.8 63 11 0 1 1626.3 605.9"/>
<path d="M1628.6 594A41.8 63 11 0 1 1678.5 545.8"/>
<path d="M1686.2 547.9A41.8 63 11 0 1 1710.3 609.9"/>
<path d="M1710.3 609.9Q1700.4 614.1 1708 621.8"/>
<path d="M1664 670.2Q1661.7 656.6 1655.9 669.7"/>
<path d="M1626.3 605.9Q1636.2 601.7 1628.6 594"/>
<path d="M1678.5 545.8Q1679.4 559.9 1686.2 547.9"/>
<path d="M1653.6 654.2A32.3 49 11 1 1 1692.3 569.3"/>
<path d="M1692.3 569.3A32.3 49 11 0 1 1653.6 654.2" stroke-width="1.6"/>
<path d="M1628.5 588.8A41.8 63 11 0 1 1677.4 545.3"/>
<path d="M1755.5 735.1A44.8 112 11 1 1 1798.1 516"/>
<path d="M1798.1 516L1836.9 519"/>
<path d="M1755.5 735.1L1788.1 743.9"/>
<ellipse cx="1815.8" cy="632.3" rx="55.7" ry="115.3" transform="rotate(11.5 1815.8 632.3)" stroke-width="1.3"/>
<path d="M1817.2 523.3A55.1 114 11.5 0 1 1821.6 734.2"/>
<ellipse cx="1815.8" cy="632.3" rx="54.1" ry="112" transform="rotate(11.5 1815.8 632.3)"/>
<ellipse cx="1816.3" cy="632.3" rx="52.4" ry="108.5" transform="rotate(11.5 1816.3 632.3)"/>
<path d="M1853.5 539.1A50.7 105 11.5 1 1 1777.3 587.6"/>
<path d="M1781.4 737.4A53.1 110 11.5 0 1 1815.5 524"/>
<path d="M1769.5 733.5A54.1 112 11.5 0 1 1807.7 523.5"/>
<path d="M1810.3 532.4A48 100 11.5 0 1 1771.3 724.1"/>
<path d="M1814.8 540.2A46.6 97 11.5 0 1 1830.5 602.5" stroke-width="1.6"/>
<path d="M1855 553.6A50.2 104 11.5 0 1 1816.5 724.6"/>
<ellipse cx="1785.4" cy="626.3" rx="15.4" ry="37.5" transform="rotate(11.5 1785.4 626.3)"/>
<ellipse cx="1781.5" cy="625.4" rx="7.3" ry="17.3" transform="rotate(11.5 1781.5 625.4)" stroke-width="1.3" fill="#4a4a4a"/>
<path d="M1787.6 609.3A7.3 17.3 11.5 0 1 1779.6 642.7"/>
<path d="M1902.9 665.3A8.2 17 10.7 1 1 1910.3 633.4"/>
<ellipse cx="1944.2" cy="655.6" rx="8.3" ry="17.3" transform="rotate(10.7 1944.2 655.6)" stroke-width="1.3"/>
<ellipse cx="1944.7" cy="655.6" rx="6.2" ry="13" transform="rotate(10.7 1944.7 655.6)"/>
<path d="M1907.8 631.9L1947.4 638.6"/>
<path d="M1901.4 665.3L1941 672.6"/>
<path d="M1940 656.7L1950 658.5"/>
<ellipse cx="2009.5" cy="668" rx="36.5" ry="76" transform="rotate(10.7 2009.5 668)"/>
<path d="M1999.5 740.6A35.5 74 10.7 0 1 2024.2 597"/>
<path d="M1997.6 736.9A34.8 72.5 10.7 0 1 2020.5 600.6"/>
<path d="M1973.9 715L1984.4 719.1"/>
<path d="M1989.9 616.7L1996.7 623.3"/>
<path d="M2020.9 705.9A20.5 42.7 10.7 1 1 2033.8 637.2" stroke-width="1.2"/>
<ellipse cx="2022.2" cy="670.4" rx="20.5" ry="42.7" transform="rotate(10.7 2022.2 670.4)" stroke-width="1.2"/>
<path d="M2024.4 627.6L2031.4 628.9"/>
<path d="M2007.2 711.2L2014.2 712.5"/>
<ellipse cx="2020.5" cy="670.2" rx="13.5" ry="39.6" transform="rotate(10.7 2020.5 670.2)" stroke-width="1.2"/>
<path d="M2032.5 632.7A13.5 39.6 10.7 0 1 2018.1 709.3"/>
<ellipse cx="2016" cy="669.4" rx="6.1" ry="17" transform="rotate(10.7 2016 669.4)"/>
<ellipse cx="2017" cy="669.6" rx="4.2" ry="10.5" transform="rotate(10.7 2017 669.6)" stroke-width="1.3"/>
<path d="M2006.4 679.8A8.6 24 10.7 0 1 2025.6 659"/>
<path d="M2025 633.4Q2012 651.4 2012 667.4"/>
<path d="M2027 642.4Q2020 663.4 2008 691.4"/>
<path d="M2028 661.4Q2023 687.4 2011 705.4"/>
<path d="M2022 683.4Q2018 697.4 2012 706.4"/>
<path d="M2023 631.4L2021 655.4"/>
<path d="M2010 668.4L2032 672.4"/>
<path d="M830 456.7L850.5 460.3"/>
<path d="M895.8 467.5L1022.5 490.3"/>
<path d="M1022.5 490.3L1103 504.8" stroke-dasharray="0 9 10 8 10 8 40"/>
<path d="M1142.5 513.3L1178.5 519.8"/>
<path d="M1208 523.5L1240 529.3"/>
<path d="M1341.7 547.5L1418.3 561.5" stroke-dasharray="0 8 26 8 10 8 60"/>
<path d="M1418.3 561.5L1424 562.6"/>
<path d="M1490 574.5L1505 577.2"/>
<path d="M1515.5 579L1589 592.3" stroke-dasharray="40 8 10 8 10 8 60"/>
<path d="M1601 594.5L1636 600.8"/>
<path d="M1640 601.5L1726 617"/>
<path d="M1783 627.3L1897.5 647.9"/>
<path d="M1950 657.3L1973.3 661.5"/>
<path d="M2011.7 668.4L2048 675"/>
<path d="M2048 675L2145.7 692.7" stroke-dasharray="0 14 14 14 16 14 30"/>
<path d="M670.8 966.9A8.8 17.5 10.7 1 1 678.5 934.1"/>
<path d="M675.7 932.5L691.3 935.1"/>
<path d="M669.3 966.9L684.7 969.9"/>
<ellipse cx="688" cy="952.5" rx="8.8" ry="17.7" transform="rotate(10.7 688 952.5)"/>
<path d="M683.5 965.4A7.2 14.5 10.7 1 1 692.2 962.7"/>
<ellipse cx="689.5" cy="952.7" rx="5.5" ry="11" transform="rotate(10.7 689.5 952.7)" stroke-width="1.3"/>
<ellipse cx="690" cy="952.8" rx="3.5" ry="7" transform="rotate(10.7 690 952.8)"/>
<path d="M684 951.8L697 954.2"/>
<path d="M691.5 944L689 962"/>
<path d="M724.4 979A9.8 19.5 10.7 1 1 733 942.4"/>
<ellipse cx="728.5" cy="960.2" rx="9.8" ry="19.5" transform="rotate(10.7 728.5 960.2)"/>
<path d="M724.3 974.9A7.8 15.5 10.7 1 1 736.5 953.8"/>
<ellipse cx="729" cy="960.3" rx="5.5" ry="11" transform="rotate(10.7 729 960.3)"/>
<ellipse cx="729.5" cy="960.3" rx="3.2" ry="6.5" transform="rotate(10.7 729.5 960.3)"/>
<path d="M722 959L737.5 961.7"/>
<path d="M750 980.9A8.5 17 10.7 1 1 757.5 949"/>
<path d="M754.9 947.5L770.7 950.1"/>
<path d="M748.5 980.9L764.3 984.1"/>
<ellipse cx="767.5" cy="967.1" rx="8.7" ry="17.3" transform="rotate(10.7 767.5 967.1)"/>
<ellipse cx="769" cy="967.3" rx="5" ry="10" transform="rotate(10.7 769 967.3)"/>
<path d="M922.5 1008.3A55.2 83 11 0 1 863.1 1069.3"/>
<path d="M854.5 1068.6A55.2 83 11 0 1 814.5 1005.9"/>
<path d="M895.4 908.6A55.2 83 11 0 1 925.4 995.6"/>
<path d="M817.7 1026.6A55.2 83 11 0 1 887.1 905.8" stroke-width="2.2"/>
<path d="M854.5 1068.6A55.2 83 11 0 1 817.7 1026.6" stroke-width="1.5"/>
<path d="M925.4 995.6L919.5 994.7"/>
<path d="M922.5 1008.3L916.8 1006"/>
<path d="M919.5 994.7A49.2 74 11 0 1 916.8 1006"/>
<path d="M863.1 1069.3L864 1060.4"/>
<path d="M854.5 1068.6L856.3 1059.8"/>
<path d="M864 1060.4A49.2 74 11 0 1 856.3 1059.8"/>
<path d="M887.1 905.8L885.3 914.6"/>
<path d="M895.4 908.6L892.7 917.1"/>
<path d="M885.3 914.6A49.2 74 11 0 1 892.7 917.1"/>
<path d="M823.7 978.7L828.3 979.5"/>
<path d="M826.3 967.7L830.7 969.6"/>
<path d="M894.2 912.4A52.5 79 11 0 1 922.7 995.2"/>
<path d="M920 1007.3A52.5 79 11 0 1 863.5 1065.4"/>
<path d="M895.4 917.4A49.9 75 11 0 1 920.1 994.8"/>
<path d="M917.5 1006.2A49.9 75 11 0 1 866.5 1061.2"/>
<path d="M848.6 1059.9A51.2 77 11 0 1 821.4 978.1"/>
<path d="M824.3 966.4A51.2 77 11 0 1 884.7 911.3"/>
<path d="M847.7 1052.2A47.2 71 11 0 1 826.3 978.8"/>
<path d="M829 968A47.2 71 11 0 1 879.8 916.9"/>
<path d="M833.3 1029.6A37.3 64.3 11 0 1 895.1 934.7"/>
<path d="M895.1 934.7A37.3 64.3 11 1 1 833.3 1029.6" stroke-width="1.7"/>
<path d="M1022.7 1019.5A41.8 63 11 0 1 978.7 1067.9"/>
<path d="M970.6 1067.4A41.8 63 11 0 1 941 1003.6"/>
<path d="M943.3 991.7A41.8 63 11 0 1 993.2 943.5"/>
<path d="M1000.9 945.6A41.8 63 11 0 1 1025 1007.6"/>
<path d="M1025 1007.6Q1015.1 1011.8 1022.7 1019.5"/>
<path d="M978.7 1067.9Q976.4 1054.3 970.6 1067.4"/>
<path d="M941 1003.6Q950.9 999.4 943.3 991.7"/>
<path d="M993.2 943.5Q994.1 957.6 1000.9 945.6"/>
<path d="M968.3 1051.9A32.3 49 11 1 1 1007 967"/>
<path d="M1007 967A32.3 49 11 0 1 968.3 1051.9" stroke-width="1.6"/>
<path d="M943.2 986.5A41.8 63 11 0 1 992.1 943"/>
<path d="M1040.4 1125.7A34.7 112.9 13.3 1 1 1090.4 906.1"/>
<path d="M1090.4 906.1L1133.8 912.5"/>
<path d="M1040.4 1125.7L1078.6 1137.5"/>
<ellipse cx="1109.2" cy="1025.8" rx="39.9" ry="116.2" transform="rotate(13.6 1109.2 1025.8)" stroke-width="1.4"/>
<path d="M1131.8 913.4A39.4 115 13.6 1 1 1074.9 1134.1" stroke-width="1.3"/>
<ellipse cx="1108.7" cy="1025.8" rx="38.6" ry="112.5" transform="rotate(13.6 1108.7 1025.8)"/>
<ellipse cx="1109.7" cy="1025.8" rx="37.4" ry="109" transform="rotate(13.6 1109.7 1025.8)"/>
<path d="M1071 1130.5A38.1 111 13.6 0 1 1115.8 917.3"/>
<path d="M1060.8 1126.5A38.8 113 13.6 0 1 1108.3 916.5"/>
<path d="M1054.3 1121.9A38.8 113 13.6 0 1 1100.4 918.4"/>
<path d="M1138 935.9A35.7 104 13.6 0 1 1083.1 1125"/>
<path d="M1112.1 927.7A34 103 13.6 0 1 1072.1 1111.1"/>
<ellipse cx="1098.5" cy="1023.7" rx="15" ry="37.5" transform="rotate(12 1098.5 1023.7)"/>
<path d="M1085 980.8L1106.7 985.8"/>
<path d="M1105.8 936.7L1109 986.7" stroke-width="2"/>
<path d="M1069 1055L1090.8 1060.8"/>
<path d="M1090.8 1061.7L1069 1104"/>
<path d="M1093 1062L1071.5 1104"/>
<path d="M1260 1069.1A55.2 83 11 0 1 1200.6 1130.1"/>
<path d="M1192 1129.4A55.2 83 11 0 1 1152 1066.7"/>
<path d="M1232.9 969.4A55.2 83 11 0 1 1262.9 1056.4"/>
<path d="M1155.2 1087.4A55.2 83 11 0 1 1224.6 966.6" stroke-width="2.2"/>
<path d="M1192 1129.4A55.2 83 11 0 1 1155.2 1087.4" stroke-width="1.5"/>
<path d="M1262.9 1056.4L1257 1055.5"/>
<path d="M1260 1069.1L1254.3 1066.8"/>
<path d="M1257 1055.5A49.2 74 11 0 1 1254.3 1066.8"/>
<path d="M1200.6 1130.1L1201.5 1121.2"/>
<path d="M1192 1129.4L1193.8 1120.6"/>
<path d="M1201.5 1121.2A49.2 74 11 0 1 1193.8 1120.6"/>
<path d="M1224.6 966.6L1222.8 975.4"/>
<path d="M1232.9 969.4L1230.2 977.9"/>
<path d="M1222.8 975.4A49.2 74 11 0 1 1230.2 977.9"/>
<path d="M1161.2 1039.5L1165.8 1040.3"/>
<path d="M1163.8 1028.5L1168.2 1030.4"/>
<path d="M1231.7 973.2A52.5 79 11 0 1 1260.2 1056"/>
<path d="M1257.5 1068.1A52.5 79 11 0 1 1201 1126.2"/>
<path d="M1232.9 978.2A49.9 75 11 0 1 1257.6 1055.6"/>
<path d="M1255 1067A49.9 75 11 0 1 1204 1122"/>
<path d="M1186.1 1120.7A51.2 77 11 0 1 1158.9 1038.9"/>
<path d="M1161.8 1027.2A51.2 77 11 0 1 1222.2 972.1"/>
<path d="M1185.2 1113A47.2 71 11 0 1 1163.8 1039.6"/>
<path d="M1166.5 1028.8A47.2 71 11 0 1 1217.3 977.7"/>
<path d="M1170.8 1090.4A37.3 64.3 11 0 1 1232.6 995.5"/>
<path d="M1232.6 995.5A37.3 64.3 11 1 1 1170.8 1090.4" stroke-width="1.7"/>
<path d="M1360.2 1080.7A41.8 63 11 0 1 1316.2 1129.1"/>
<path d="M1308.1 1128.6A41.8 63 11 0 1 1278.5 1064.8"/>
<path d="M1280.8 1052.9A41.8 63 11 0 1 1330.7 1004.7"/>
<path d="M1338.4 1006.8A41.8 63 11 0 1 1362.5 1068.8"/>
<path d="M1362.5 1068.8Q1352.6 1073 1360.2 1080.7"/>
<path d="M1316.2 1129.1Q1313.9 1115.5 1308.1 1128.6"/>
<path d="M1278.5 1064.8Q1288.4 1060.6 1280.8 1052.9"/>
<path d="M1330.7 1004.7Q1331.6 1018.8 1338.4 1006.8"/>
<path d="M1305.8 1113.1A32.3 49 11 1 1 1344.5 1028.2"/>
<path d="M1344.5 1028.2A32.3 49 11 0 1 1305.8 1113.1" stroke-width="1.6"/>
<path d="M1280.7 1047.7A41.8 63 11 0 1 1329.6 1004.2"/>
<ellipse cx="1424.2" cy="1085.3" rx="53.8" ry="114.5" transform="rotate(8.7 1424.2 1085.3)" stroke-width="1.3"/>
<path d="M1402.4 1197.4A52.4 114.5 8.7 0 1 1439.7 971.9"/>
<ellipse cx="1424.2" cy="1085.3" rx="51" ry="114.5" transform="rotate(8.7 1424.2 1085.3)"/>
<path d="M1445.5 973.2A47.5 114.5 8.7 0 1 1411 1198.7" stroke-width="1.3"/>
<path d="M1398.9 1195.5A48.1 114.5 8.7 0 1 1434.7 972.2"/>
<path d="M1447.3 974.1A42.9 114.5 8.7 0 1 1413 1198.3"/>
<path d="M1449 975.8A38.4 114.5 8.7 0 1 1413.7 1197.8" stroke-width="1.3"/>
<path d="M1384.3 1059.3A44.1 113 8.7 0 1 1455.2 982.6"/>
<path d="M1392.8 1042.1A40 111 8.7 0 1 1450.6 980.9"/>
<ellipse cx="1415.8" cy="1083.8" rx="31.7" ry="68.5" transform="rotate(8.7 1415.8 1083.8)"/>
<ellipse cx="1414.2" cy="1084.2" rx="24" ry="51.5" transform="rotate(8.7 1414.2 1084.2)"/>
<ellipse cx="1413" cy="1083.8" rx="17.7" ry="38.5" transform="rotate(8.7 1413 1083.8)"/>
<ellipse cx="1411" cy="1083.3" rx="13.1" ry="35.5" transform="rotate(8.7 1411 1083.3)"/>
<path d="M1421 1050.2A13.1 35.5 8.7 0 1 1406 1118.4" stroke-width="2.2"/>
<path d="M1425.1 1054.5A13.1 35.5 8.7 0 1 1406.5 1118.1"/>
<path d="M1527.4 1233.4A45 129.3 11.4 1 1 1564.3 980.3"/>
<path d="M1527.4 1233.4L1648.5 1257.5"/>
<path d="M1652.5 992.5L1699 1000.6"/>
<path d="M1691.7 1001.2A56.3 131.6 10 1 1 1642.4 1253.2"/>
<path d="M1642.4 1253.2A56.3 131.6 10 0 1 1691.7 1001.2"/>
<ellipse cx="1678.8" cy="1130.5" rx="47.3" ry="110" transform="rotate(10 1678.8 1130.5)"/>
<ellipse cx="1677.8" cy="1130.5" rx="45.1" ry="105" transform="rotate(10 1677.8 1130.5)"/>
<path d="M1706 1032.3A44.3 103 10 0 1 1670.8 1232.1" stroke-width="1.4"/>
<path d="M1679.9 1218.5A43 100 10 0 1 1639.9 1088.8"/>
<ellipse cx="1686" cy="1131" rx="25.5" ry="58" transform="rotate(10 1686 1131)"/>
<path d="M1699.9 1168.7A23.8 54 10 1 1 1713 1108.4"/>
<path d="M1677.7 1179.6A22 50 10 0 1 1694.8 1082.6" stroke-width="1.4"/>
<ellipse cx="1674.5" cy="1063.8" rx="7.8" ry="12.5" transform="rotate(10 1674.5 1063.8)"/>
<path d="M1674.5 1064L1681 1064.6"/>
<path d="M1685 1091L1739.9 1101.1L1725.1 1179.7L1672.5 1171Q1664 1130 1685 1091Z" fill="#fff" stroke="none"/>
<path d="M1685 1091L1739.9 1101.1"/>
<path d="M1672.5 1171L1725.1 1179.7"/>
<ellipse cx="1732.5" cy="1140.4" rx="18" ry="40" transform="rotate(10.7 1732.5 1140.4)" stroke-width="1.3" fill="#fff"/>
<ellipse cx="1733" cy="1140.4" rx="16.4" ry="36.5" transform="rotate(10.7 1733 1140.4)"/>
<path d="M1722.1 1179A18 40 10.7 0 1 1736.9 1100.7"/>
<g transform="rotate(-4.6 1607.8 963)"><ellipse cx="1607.8" cy="963" rx="41.5" ry="20.5" stroke-width="1.3"/><ellipse cx="1608" cy="964.5" rx="36" ry="17.5"/><path d="M1566.5 964A41.5 20.5 0 0 0 1649 964" transform="translate(0 2)"/></g>
<path d="M1567.3 966.7L1570 1018.3"/>
<path d="M1650 960L1654.2 1010"/>
<path d="M1570 1018.3Q1578 1030 1600 1033Q1635 1033 1654.2 1010" stroke-width="2"/>
<path d="M1570 1006L1571 1020Q1580 1033 1601 1035.5Q1638 1034 1655.5 1014L1655 1003"/>
<path d="M1567.5 980Q1541 985 1522 1030"/>
<g transform="rotate(18 1580 1234.5)"><ellipse cx="1580" cy="1234.5" rx="12.5" ry="5"/><path d="M1568 1233A12.5 5 0 0 1 1592 1233" transform="translate(0 2.2)"/></g>
<g transform="rotate(15 1548.8 1270)"><ellipse cx="1548.8" cy="1270" rx="15" ry="8"/><ellipse cx="1548.8" cy="1270" rx="11" ry="5"/></g>
<path d="M1582.5 1236L1521 1297.5"/>
<g transform="rotate(12 1508.8 1312)"><ellipse cx="1508.8" cy="1316" rx="17" ry="9.5"/><ellipse cx="1509" cy="1316.5" rx="11.5" ry="6"/><ellipse cx="1509" cy="1316.8" rx="6" ry="2.8"/><path d="M1491.8 1316V1309A17 8 0 0 1 1525.8 1309V1316M1495 1308A14 6 0 0 1 1523 1308M1497 1304A12 5.5 0 0 1 1521 1304" /></g>
<ellipse cx="1729.4" cy="982.8" rx="10.5" ry="15.5" transform="rotate(8 1729.4 982.8)" stroke-width="1.2"/>
<ellipse cx="1729.4" cy="982.8" rx="7.4" ry="12" transform="rotate(8 1729.4 982.8)"/>
<path d="M1712.5 981L1722 982.6"/>
<path d="M1737 985.3L1795 995.5"/>
<path d="M1712.5 981L1680 1066"/>
<path d="M1809.8 1012.9A11.9 17 8 1 1 1814.3 981.2"/>
<path d="M1810.8 1013.5A11.9 17 8 1 1 1815.3 981"/>
<ellipse cx="1812.5" cy="997.3" rx="13.3" ry="17" transform="rotate(8 1812.5 997.3)"/>
<ellipse cx="1813" cy="997.3" rx="10.1" ry="13" transform="rotate(8 1813 997.3)"/>
<path d="M1810.5 991L1816.5 990L1818.5 996L1816 1003L1810.5 1003.5L1808.5 997Z"/>
<path d="M1812 993.5L1812 1001"/>
<path d="M1881.4 1008.3C1885 1004.9 1888.1 1006 1892 1006.2C1895.9 1006.4 1901.4 1007.8 1905 1009.4C1908.6 1011 1911.2 1012.7 1913.7 1015.9C1916.2 1019.1 1917.8 1023 1920 1028.8C1922.2 1034.5 1924.6 1041.8 1926.6 1050.4C1928.6 1059 1930.6 1069.1 1932 1080.6C1933.4 1092.1 1934.2 1107.2 1934.8 1119.4C1935.3 1131.6 1935.5 1143.1 1935.3 1153.9C1935.1 1164.7 1934.6 1173.9 1933.5 1184C1932.4 1194.1 1931.4 1204.2 1928.8 1214.3C1926.2 1224.4 1922.7 1235.2 1918 1244.5C1913.3 1253.8 1908 1261.8 1900.8 1270.4C1893.6 1279 1883.5 1289 1874.9 1296.2C1866.3 1303.4 1856.5 1309.4 1849 1313.5C1841.5 1317.6 1834.1 1320.3 1829.6 1321C1825.1 1321.7 1824.2 1321.2 1822 1317.8C1819.8 1314.4 1818.7 1312 1816.7 1300.5C1814.7 1289 1812.2 1268.2 1810.2 1248.8C1808.2 1229.4 1806.1 1202 1804.8 1184C1803.5 1166 1802.4 1151.8 1802.6 1141C1802.8 1130.2 1804.3 1125 1805.9 1119.4C1807.5 1113.8 1808.7 1113.2 1812.3 1107.5C1815.9 1101.8 1820.9 1094.1 1827.4 1084.9C1833.9 1075.7 1844 1062.2 1851.2 1052.5C1858.4 1042.8 1865.6 1034.1 1870.6 1026.7C1875.6 1019.3 1877.8 1011.7 1881.4 1008.3Z" stroke-width="1.3"/>
<path d="M1887.8 1011.6C1885 1014.7 1877 1022.4 1871 1030C1865 1037.6 1859 1047.2 1852 1057C1845 1066.8 1835.2 1080.2 1829 1089C1822.8 1097.8 1817.9 1104 1814.5 1110C1811.1 1116 1809.7 1119.8 1808.5 1125C1807.3 1130.2 1807.3 1131.2 1807.5 1141C1807.7 1150.8 1808.3 1166.2 1809.5 1184C1810.7 1201.8 1812.7 1228.8 1814.5 1248C1816.3 1267.2 1818.9 1288.5 1820.5 1299C1822.1 1309.5 1823.4 1309 1824 1311"/>
<path d="M1874.9 1010.5C1869.9 1014.2 1854.4 1023.5 1844.7 1033C1835 1042.5 1824.8 1055.9 1816.7 1067.6C1808.6 1079.3 1800.9 1093.1 1796.2 1103.2C1791.5 1113.3 1790.3 1118.1 1788.6 1128C1786.9 1137.9 1786 1149.5 1786 1162.5C1786 1175.5 1787.1 1189.5 1788.6 1205.7C1790.1 1221.9 1792.5 1243.4 1795 1259.6C1797.5 1275.8 1801.5 1293.4 1803.7 1302.7C1805.9 1312 1805.8 1312.7 1808 1315.6C1810.2 1318.5 1813.1 1319.1 1816.7 1320C1820.3 1320.9 1827.4 1320.8 1829.6 1321"/>
<path d="M1874.9 1010.5L1883 1007.8"/>
<path d="M1796.2 1103.2L1812.3 1107.5"/>
<path d="M1787.5 1136.6L1803.7 1140"/>
<path d="M1804.8 1309L1822 1313.5"/>
<path d="M1858 1041L1861 1045"/>
<ellipse cx="1908.8" cy="1031" rx="5" ry="11.5" transform="rotate(12 1908.8 1031)"/>
<ellipse cx="1818.3" cy="1128" rx="6.3" ry="12" transform="rotate(12 1818.3 1128)"/>
<ellipse cx="1927" cy="1205.6" rx="4.5" ry="11" transform="rotate(12 1927 1205.6)"/>
<ellipse cx="1835.6" cy="1302.5" rx="5.5" ry="11.5" transform="rotate(12 1835.6 1302.5)"/>
<path d="M1860 1080C1860.6 1076.2 1861.3 1074.2 1863 1072.5C1864.7 1070.8 1867.5 1069.4 1870 1069.5C1872.5 1069.6 1876 1070.8 1878 1073C1880 1075.2 1881 1077.2 1882 1082.5C1883 1087.8 1883.2 1098.3 1883.8 1105C1884.2 1111.7 1883.1 1118.3 1885 1122.5C1886.9 1126.7 1892.4 1125.4 1895 1130C1897.6 1134.6 1899.9 1142.1 1900.5 1150C1901.1 1157.9 1900.7 1169 1898.8 1177.5C1896.8 1186 1892.4 1195.8 1888.8 1201.2C1885.1 1206.8 1880.5 1210.1 1877 1210.5C1873.5 1210.9 1870.3 1208.4 1868 1203.8C1865.7 1199.1 1863.8 1189.8 1863 1182.5C1862.2 1175.2 1861.6 1167.5 1863 1160C1864.4 1152.5 1871.2 1144.8 1871.2 1137.5C1871.2 1130.2 1865 1123.3 1863 1116.2C1861 1109.2 1859.8 1101 1859.2 1095C1858.8 1089 1859.4 1083.8 1860 1080Z"/>
<path d="M1863 1080L1870 1077.5L1880 1082.5"/>
<path d="M1885 1122.5L1875 1123.8L1870 1116.2L1866.2 1105L1882.5 1108.8"/>
<path d="M1875 1123.8C1877.5 1126 1887.4 1129.8 1890 1137.5C1892.6 1145.2 1892.8 1158 1890.5 1170C1888.2 1182 1878.6 1202.9 1876.2 1209.5"/>
<path d="M1866.2 1090L1881.2 1092.5"/>
<path d="M1866.2 1105L1866.2 1090"/>
<path d="M1911.5 1112L1926 1090L1928 1128L1923 1145L1912 1154Z" fill="#222"/>
<ellipse cx="1919.5" cy="1120" rx="5.5" ry="13" transform="rotate(10 1919.5 1120)" stroke="#fff" stroke-width="1.6"/>
<path d="M1916 1124L1923 1116M1916 1131L1922 1126" stroke="#fff" stroke-width="1.4"/>
<path d="M2073.6 1065.4L2201 1088.1"/>
<path d="M2075.8 1052.6L2203.2 1075.3"/>
<ellipse cx="2058.4" cy="1056.1" rx="3.4" ry="7.8" transform="rotate(10 2058.4 1056.1)" stroke-width="1.25"/>
<ellipse cx="2061.7" cy="1056.7" rx="3.4" ry="7.8" transform="rotate(10 2061.7 1056.7)" stroke-width="1.25"/>
<ellipse cx="2064.9" cy="1057.3" rx="3.4" ry="7.8" transform="rotate(10 2064.9 1057.3)" stroke-width="1.25"/>
<ellipse cx="2068.2" cy="1057.8" rx="3.4" ry="7.8" transform="rotate(10 2068.2 1057.8)" stroke-width="1.25"/>
<ellipse cx="2071.4" cy="1058.4" rx="3.4" ry="7.8" transform="rotate(10 2071.4 1058.4)" stroke-width="1.25"/>
<ellipse cx="2074.7" cy="1059" rx="3.4" ry="7.8" transform="rotate(10 2074.7 1059)" stroke-width="1.25"/>
<path d="M2059.3 1048.6L2075.9 1052.1"/>
<path d="M2056.6 1063.4L2073.5 1065.9"/>
<path d="M2205.4 1093.1A5.2 10.8 10.7 1 1 2210.2 1072.8"/>
<ellipse cx="2215.7" cy="1084.1" rx="5.2" ry="10.8" transform="rotate(10.7 2215.7 1084.1)"/>
<path d="M2208.5 1071.8L2217.7 1073.5"/>
<path d="M2204.5 1093.1L2213.7 1094.7"/>
<ellipse cx="2216.5" cy="1084.1" rx="3.8" ry="7.5" transform="rotate(10.7 2216.5 1084.1)"/>
<ellipse cx="2216.9" cy="1084.1" rx="2.5" ry="5" transform="rotate(10.7 2216.9 1084.1)" stroke-width="1.3"/>
<path d="M2214.7 1083.9L2219.2 1084.7"/>
<path d="M1982.8 1162.9L2110.2 1185.6"/>
<path d="M1985 1150.1L2112.4 1172.8"/>
<ellipse cx="1967.6" cy="1153.6" rx="3.4" ry="7.8" transform="rotate(10 1967.6 1153.6)" stroke-width="1.25"/>
<ellipse cx="1970.9" cy="1154.2" rx="3.4" ry="7.8" transform="rotate(10 1970.9 1154.2)" stroke-width="1.25"/>
<ellipse cx="1974.1" cy="1154.8" rx="3.4" ry="7.8" transform="rotate(10 1974.1 1154.8)" stroke-width="1.25"/>
<ellipse cx="1977.4" cy="1155.3" rx="3.4" ry="7.8" transform="rotate(10 1977.4 1155.3)" stroke-width="1.25"/>
<ellipse cx="1980.6" cy="1155.9" rx="3.4" ry="7.8" transform="rotate(10 1980.6 1155.9)" stroke-width="1.25"/>
<ellipse cx="1983.9" cy="1156.5" rx="3.4" ry="7.8" transform="rotate(10 1983.9 1156.5)" stroke-width="1.25"/>
<path d="M1968.5 1146.1L1985.1 1149.6"/>
<path d="M1965.8 1160.9L1982.7 1163.4"/>
<path d="M2114.6 1190.6A5.2 10.8 10.7 1 1 2119.4 1170.3"/>
<ellipse cx="2124.9" cy="1181.6" rx="5.2" ry="10.8" transform="rotate(10.7 2124.9 1181.6)"/>
<path d="M2117.7 1169.3L2126.9 1171"/>
<path d="M2113.7 1190.6L2122.9 1192.2"/>
<ellipse cx="2125.7" cy="1181.6" rx="3.8" ry="7.5" transform="rotate(10.7 2125.7 1181.6)"/>
<ellipse cx="2126.1" cy="1181.6" rx="2.5" ry="5" transform="rotate(10.7 2126.1 1181.6)" stroke-width="1.3"/>
<path d="M2123.9 1181.4L2128.4 1182.2"/>
<path d="M2090.3 1240.1L2217.7 1262.8"/>
<path d="M2092.5 1227.3L2219.9 1250"/>
<ellipse cx="2075.1" cy="1230.8" rx="3.4" ry="7.8" transform="rotate(10 2075.1 1230.8)" stroke-width="1.25"/>
<ellipse cx="2078.4" cy="1231.4" rx="3.4" ry="7.8" transform="rotate(10 2078.4 1231.4)" stroke-width="1.25"/>
<ellipse cx="2081.6" cy="1232" rx="3.4" ry="7.8" transform="rotate(10 2081.6 1232)" stroke-width="1.25"/>
<ellipse cx="2084.9" cy="1232.5" rx="3.4" ry="7.8" transform="rotate(10 2084.9 1232.5)" stroke-width="1.25"/>
<ellipse cx="2088.1" cy="1233.1" rx="3.4" ry="7.8" transform="rotate(10 2088.1 1233.1)" stroke-width="1.25"/>
<ellipse cx="2091.4" cy="1233.7" rx="3.4" ry="7.8" transform="rotate(10 2091.4 1233.7)" stroke-width="1.25"/>
<path d="M2076 1223.3L2092.6 1226.8"/>
<path d="M2073.3 1238.1L2090.2 1240.6"/>
<path d="M2222.1 1267.8A5.2 10.8 10.7 1 1 2226.9 1247.5"/>
<ellipse cx="2232.4" cy="1258.8" rx="5.2" ry="10.8" transform="rotate(10.7 2232.4 1258.8)"/>
<path d="M2225.2 1246.5L2234.4 1248.2"/>
<path d="M2221.2 1267.8L2230.4 1269.4"/>
<ellipse cx="2233.2" cy="1258.8" rx="3.8" ry="7.5" transform="rotate(10.7 2233.2 1258.8)"/>
<ellipse cx="2233.6" cy="1258.8" rx="2.5" ry="5" transform="rotate(10.7 2233.6 1258.8)" stroke-width="1.3"/>
<path d="M2231.4 1258.6L2235.9 1259.4"/>
<path d="M1999.9 1338.6L2127.2 1361.3"/>
<path d="M2002.1 1325.8L2129.4 1348.5"/>
<ellipse cx="1984.7" cy="1329.3" rx="3.4" ry="7.8" transform="rotate(10 1984.7 1329.3)" stroke-width="1.25"/>
<ellipse cx="1988" cy="1329.9" rx="3.4" ry="7.8" transform="rotate(10 1988 1329.9)" stroke-width="1.25"/>
<ellipse cx="1991.2" cy="1330.5" rx="3.4" ry="7.8" transform="rotate(10 1991.2 1330.5)" stroke-width="1.25"/>
<ellipse cx="1994.5" cy="1331" rx="3.4" ry="7.8" transform="rotate(10 1994.5 1331)" stroke-width="1.25"/>
<ellipse cx="1997.7" cy="1331.6" rx="3.4" ry="7.8" transform="rotate(10 1997.7 1331.6)" stroke-width="1.25"/>
<ellipse cx="2001" cy="1332.2" rx="3.4" ry="7.8" transform="rotate(10 2001 1332.2)" stroke-width="1.25"/>
<path d="M1985.6 1321.8L2002.2 1325.3"/>
<path d="M1982.9 1336.6L1999.8 1339.1"/>
<path d="M2131.6 1366.3A5.2 10.8 10.7 1 1 2136.4 1346"/>
<ellipse cx="2141.9" cy="1357.3" rx="5.2" ry="10.8" transform="rotate(10.7 2141.9 1357.3)"/>
<path d="M2134.7 1345L2143.9 1346.7"/>
<path d="M2130.7 1366.3L2139.9 1367.9"/>
<ellipse cx="2142.7" cy="1357.3" rx="3.8" ry="7.5" transform="rotate(10.7 2142.7 1357.3)"/>
<ellipse cx="2143.1" cy="1357.3" rx="2.5" ry="5" transform="rotate(10.7 2143.1 1357.3)" stroke-width="1.3"/>
<path d="M2140.9 1357.1L2145.4 1357.9"/>
<path d="M645.7 945L664.5 948.3"/>
<path d="M695.8 954.2L717.5 958"/>
<path d="M737.5 961.7L745.8 963.1"/>
<path d="M775 969.2L816.7 976.5"/>
<path d="M826.7 978.3L941 998.5"/>
<path d="M951 1000.3L1021 1012.7"/>
<path d="M1085 1024L1147 1035"/>
<path d="M1163 1037.8L1195 1043.5" stroke-dasharray="0 0 12 6 40"/>
<path d="M1195 1043.5L1282 1059.5" stroke-dasharray="0 18 40 0"/>
<path d="M1290 1061L1369 1075.5"/>
<path d="M1397.5 1082.5L1498.3 1100.3"/>
<path d="M1716 1138.8L1785 1151"/>
<path d="M1862.5 1165L1933.8 1177.6"/>
<path d="M1933.8 1177.6L2147.5 1217" stroke-dasharray="0 6.3 12 7.3 10 7.8 57 9.6 10 7.6 10 8.1 80"/>
<path d="M325.6 491A43.5 125.5 14.5 1 1 383.5 249"/>
<path d="M376.7 247.5L486.7 265"/>
<path d="M321.7 491.3L420 509.2"/>
<path d="M305.8 332.5L405 350"/>
<path d="M304.2 339.2L403.3 356.7"/>
<g transform="rotate(10 382 382.5)"><ellipse cx="382" cy="382.5" rx="7.2" ry="9.3"/><ellipse cx="382" cy="382.5" rx="5.2" ry="6.7"/><ellipse cx="382" cy="382.5" rx="2.4" ry="3.1" fill="#000"/></g>
<g transform="rotate(25 392.5 487.5)"><ellipse cx="392.5" cy="487.5" rx="9" ry="5.5"/><ellipse cx="392.5" cy="487.5" rx="6.5" ry="4"/><ellipse cx="392.5" cy="487.5" rx="3" ry="1.8" fill="#000"/></g>
<path d="M486.7 265C484.6 265.2 478.1 265.7 474 266.5C469.9 267.3 466.1 267.9 461.9 270C457.7 272.1 452.8 275.8 449 279C445.2 282.2 442.5 285.6 439.2 289.3C435.9 293 432.3 297.1 429 301C425.7 304.9 422.1 308 419.4 312.5C416.6 317 414.7 322.4 412.5 328C410.3 333.6 407.8 339.2 406 346C404.2 352.8 402.6 360.4 401.5 369C400.4 377.6 399.6 389.3 399.2 397.8C398.8 406.3 398.6 413 398.8 420C399 427 399.6 433.8 400.5 440C401.4 446.2 402.2 450.5 404 457C405.8 463.5 408.3 470.7 411 479C413.7 487.3 418.5 502.1 420 506.7"/>
<path d="M432.6 302C431.1 303.9 425.9 309 423.2 313.5C420.6 318 418.8 323.4 416.7 329C414.5 334.6 412 340.2 410.2 347C408.4 353.8 406.8 361.4 405.7 370C404.6 378.6 403.8 390.3 403.4 398.8C402.9 407.3 402.8 414 403 421C403.2 428 403.8 434.8 404.7 441C405.6 447.2 406.4 451.5 408.2 458C409.9 464.5 412.5 471.7 415.2 480C417.9 488.3 422.7 503.1 424.2 507.7"/>
<path d="M413.5 347.5C412.8 351.3 410.1 361.9 409 370.5C407.9 379.1 407.1 390.8 406.7 399.3C406.2 407.8 406.1 414.5 406.3 421.5C406.5 428.5 407.7 438.2 408 441.5"/>
<path d="M405.7 379.5L596 411.5"/>
<path d="M408.7 383.1L597 414.9"/>
<path d="M408.7 383.1L413.7 378"/>
<path d="M413.7 378L592 408.9"/>
<path d="M404.5 393.7L597.6 426.1"/>
<path d="M407.5 397.3L598.6 429.5"/>
<path d="M407.5 397.3L412.5 392.2"/>
<path d="M412.5 392.2L593.6 423.5"/>
<path d="M404 407.9L599.2 440.7"/>
<path d="M407 411.5L600.2 444.1"/>
<path d="M407 411.5L412 406.4"/>
<path d="M412 406.4L595.2 438.1"/>
<path d="M404 422.1L600.8 455.2"/>
<path d="M407 425.7L601.8 458.6"/>
<path d="M407 425.7L412 420.6"/>
<path d="M412 420.6L596.8 452.6"/>
<path d="M405.2 436.3L602.4 469.4"/>
<path d="M408.2 439.9L603.4 472.8"/>
<path d="M408.2 439.9L413.2 434.8"/>
<path d="M413.2 434.8L598.4 466.8"/>
<path d="M407.7 450.5L604 483.5"/>
<path d="M410.7 454.1L605 486.9"/>
<path d="M410.7 454.1L415.7 449"/>
<path d="M415.7 449L600 480.9"/>
<path d="M411.4 464.7L605.6 497.3"/>
<path d="M414.4 468.3L606.6 500.7"/>
<path d="M414.4 468.3L419.4 463.2"/>
<path d="M419.4 463.2L601.6 494.7"/>
<path d="M416 478.9L607.2 511"/>
<path d="M419 482.5L608.2 514.4"/>
<path d="M419 482.5L424 477.4"/>
<path d="M424 477.4L603.2 508.4"/>
<path d="M420.6 493.1L608.8 524.7"/>
<path d="M423.6 496.7L609.8 528.1"/>
<path d="M423.6 496.7L428.6 491.6"/>
<path d="M428.6 491.6L604.8 522.1"/>
<path d="M425 507.3L610.4 538.4"/>
<path d="M428 510.9L611.4 541.8"/>
<path d="M428 510.9L433 505.8"/>
<path d="M433 505.8L606.4 535.8"/>
<path d="M592 408.9L601 405L601.5 408.5L597 414.9L591 420.5L593.6 423.5L602.6 419.6L603.1 423.1L598.6 429.5L592.6 435.1L595.2 438.1L604.2 434.2L604.7 437.7L600.2 444.1L594.2 449.7L596.8 452.6L605.8 448.7L606.3 452.2L601.8 458.6L595.8 464.2L598.4 466.8L607.4 462.9L607.9 466.4L603.4 472.8L597.4 478.4L600 480.9L609 477L609.5 480.5L605 486.9L599 492.5L601.6 494.7L610.6 490.8L611.1 494.3L606.6 500.7L600.6 506.3L603.2 508.4L612.2 504.5L612.7 508L608.2 514.4L602.2 520L604.8 522.1L613.8 518.2L614.3 521.7L609.8 528.1L603.8 533.7L606.4 535.8L615.4 531.9L615.9 535.4L611.4 541.8L605.4 547.4"/>
<path d="M428.3 507.5L620 541.7"/>
<path d="M420 506.7L421 509.5L429 510.5L428.3 498"/>
<path d="M468 515L469 518.5L487 521.5L487 518.5"/>
<path d="M515 523.5L516 527L534 530L534 527"/>
<path d="M468.8 267.6L496.4 271.6" stroke-width="1.5"/>
<path d="M468 267.6L468 272.5"/>
<path d="M471.8 270.2L495.4 274.2"/>
<path d="M461.9 270.6L493.4 275.5" stroke-width="1.5"/>
<path d="M461.1 270.6L461.1 277.4"/>
<path d="M464.9 273.2L492.4 278.1"/>
<path d="M455 275.5L488.5 281.4" stroke-width="1.5"/>
<path d="M454.2 275.5L454.2 283.1"/>
<path d="M458 278.1L487.5 284"/>
<path d="M449 281.4L483.5 287.3" stroke-width="1.5"/>
<path d="M448.2 281.4L448.2 290"/>
<path d="M452 284L482.5 289.9"/>
<path d="M443.1 288.3L479.6 295.2" stroke-width="1.5"/>
<path d="M442.3 288.3L442.3 297.9"/>
<path d="M446.1 290.9L478.6 297.8"/>
<path d="M437.2 296.2L477.6 303.1" stroke-width="1.5"/>
<path d="M436.4 296.2L436.4 305.6"/>
<path d="M440.2 298.8L476.6 305.7"/>
<path d="M432.3 304.1L474.7 311" stroke-width="1.5"/>
<path d="M431.5 304.1L431.5 314.7"/>
<path d="M435.3 306.7L473.7 313.6"/>
<path d="M426.4 313L474.7 321.9" stroke-width="1.5"/>
<path d="M425.6 313L425.6 325.3"/>
<path d="M421.4 323.8L475.7 332.7" stroke-width="1.5"/>
<path d="M420.6 323.8L420.6 336"/>
<path d="M412.5 333.7L477.6 346" stroke-width="1.5"/>
<path d="M419.5 310.5L426 305L427.5 309.5"/>
<path d="M414.5 358.3L480.6 374.1"/>
<path d="M412.5 334L414.5 358.3L420.5 362L419 366L401.7 378"/>
<path d="M401.7 378L488.5 386"/>
<path d="M478.3 310Q490 282 506.7 263Q522 243 538 231Q545 226 552 226.7L650 240.8Q656 242 656.7 248.3L586.7 321.7Q580 327.5 571.7 326.7Z" stroke-width="1.2"/>
<path d="M482.5 306Q494 282 510 263Q526 243 541 233"/>
<path d="M478.3 315L570 332.8Q581 333 588.3 329L658.3 256.5L656.7 248.3"/>
<path d="M478.3 310L478.3 315"/>
<path d="M571.7 326.7L570 332.8"/>
<path d="M586.7 321.7Q589 324 588.3 329"/>
<path d="M593 314.5L661 243.5"/>
<path d="M481.7 315L488.3 386.7"/>
<path d="M477 318L484 386"/>
<path d="M484 386L576.7 402.5"/>
<path d="M570 332.8L576.7 402"/>
<path d="M588.3 330L595 396.7"/>
<path d="M576.7 402.5Q590 403 595 396.7"/>
<path d="M481.7 335L570 353.3"/>
<path d="M570 353.3Q582 353 590 347.5"/>
<path d="M590 347.5L660 275"/>
<path d="M658.3 256.5L664.5 305"/>
<path d="M484 352L571.5 369"/>
<g transform="rotate(8 547.5 234.2)"><ellipse cx="547.5" cy="234.2" rx="7" ry="4.5"/><ellipse cx="547.5" cy="234.2" rx="5" ry="3.2"/><ellipse cx="547.5" cy="234.2" rx="2.3" ry="1.5" fill="#000"/></g>
<g transform="rotate(8 635.8 250)"><ellipse cx="635.8" cy="250" rx="7" ry="4.5"/><ellipse cx="635.8" cy="250" rx="5" ry="3.2"/><ellipse cx="635.8" cy="250" rx="2.3" ry="1.5" fill="#000"/></g>
<g transform="rotate(8 495.8 289.2)"><ellipse cx="495.8" cy="289.2" rx="7" ry="4.5"/><ellipse cx="495.8" cy="289.2" rx="5" ry="3.2"/><ellipse cx="495.8" cy="289.2" rx="2.3" ry="1.5" fill="#000"/></g>
<g transform="rotate(8 584.2 305.8)"><ellipse cx="584.2" cy="305.8" rx="7" ry="4.5"/><ellipse cx="584.2" cy="305.8" rx="5" ry="3.2"/><ellipse cx="584.2" cy="305.8" rx="2.3" ry="1.5" fill="#000"/></g>
<path d="M594.5 377.2L593.7 365.9L603.2 367.9"/>
<path d="M603.2 367.9L604.5 387.3" stroke-width="1.8"/>
<path d="M594.9 367.7L602.2 369.5"/>
<path d="M594.5 377.2L596.2 392.9L599.7 395.9L604.2 392.2L604.5 387.3"/>
<path d="M599.3 365.6L598.5 355.1L607.6 357"/>
<path d="M607.6 357L608.9 375.1" stroke-width="1.8"/>
<path d="M599.7 356.9L606.6 358.6"/>
<path d="M608.9 375.1L604.1 376.6"/>
<path d="M605.3 354.8L604.5 345.1L613.2 347"/>
<path d="M613.2 347L614.5 363.7" stroke-width="1.8"/>
<path d="M605.7 346.9L612.2 348.6"/>
<path d="M614.5 363.7L609.7 365.1"/>
<path d="M611.4 345L610.6 336.1L618.9 337.9"/>
<path d="M618.9 337.9L620.2 353.2" stroke-width="1.8"/>
<path d="M611.8 337.9L617.9 339.5"/>
<path d="M620.2 353.2L615.4 354.5"/>
<path d="M617.4 335.6L616.6 327.5L624.5 329.2"/>
<path d="M624.5 329.2L625.8 343.2" stroke-width="1.8"/>
<path d="M617.8 329.3L623.5 330.8"/>
<path d="M625.8 343.2L621 344.4"/>
<path d="M623.4 328L622.6 320.6L630.1 322.3"/>
<path d="M630.1 322.3L631.4 334.9" stroke-width="1.8"/>
<path d="M623.8 322.4L629.1 323.9"/>
<path d="M631.4 334.9L626.6 335.9"/>
<path d="M629.9 321.6L629.1 315L636.2 316.6"/>
<path d="M636.2 316.6L637.5 327.8" stroke-width="1.8"/>
<path d="M630.3 316.8L635.2 318.2"/>
<path d="M637.5 327.8L632.7 328.7"/>
<path d="M636.4 315.6L635.6 309.8L642.3 311.3"/>
<path d="M642.3 311.3L643.6 321.2" stroke-width="1.8"/>
<path d="M636.8 311.6L641.3 312.9"/>
<path d="M643.6 321.2L638.8 322"/>
<path d="M642.8 310L642 305L648.3 306.4"/>
<path d="M648.3 306.4L649.6 314.9" stroke-width="1.8"/>
<path d="M643.2 306.8L647.3 308"/>
<path d="M649.6 314.9L644.8 315.6"/>
<path d="M649.8 305.8L649 301.6L654.9 303"/>
<path d="M654.9 303L656.2 310.1" stroke-width="1.8"/>
<path d="M650.2 303.4L653.9 304.6"/>
<path d="M656.2 310.1L651.4 310.7"/>
<path d="M655.8 303.2L655 299.8L660.5 301.1"/>
<path d="M660.5 301.1L661.8 306.9" stroke-width="1.8"/>
<path d="M656.2 301.6L659.5 302.7"/>
<path d="M661.8 306.9L657 307.3"/>
<path d="M603 394Q607 440 613 487"/>
<path d="M607 392Q611 440 617 487"/>
<path d="M598 391L640 399"/>
<ellipse cx="613.4" cy="494.5" rx="6" ry="7.5" transform="rotate(-15 613.4 494.5)" stroke-width="1.4"/>
<ellipse cx="613.4" cy="494.5" rx="4" ry="5.5" transform="rotate(-15 613.4 494.5)"/>
<path d="M615 502Q620 540 632 575"/>
<path d="M712.2 270.4C718.5 269.6 732.5 273 738 275.1C743.5 277.2 742.5 277.4 745 283.3C747.5 289.2 750.9 300 753.2 310.3C755.5 320.6 757.5 333.7 759 345.4C760.5 357.1 761.3 368.8 761.9 380.5C762.5 392.2 762.9 403.9 762.6 415.6C762.3 427.3 761.6 439.1 760.2 450.8C758.8 462.5 757.3 475 754.4 485.9C751.5 496.8 747.8 506.9 742.7 516.3C737.6 525.7 730.9 533.9 723.9 542.1C716.9 550.3 708.3 559.1 700.5 565.5C692.7 571.9 683.7 577.2 677.1 580.7C670.5 584.2 664.6 586 660.7 586.6C656.8 587.2 656 587.4 653.7 584.3C651.4 581.2 648.9 576.5 646.7 567.9C644.6 559.3 642.6 546.4 640.8 532.7C639 519 637.1 501.5 636.1 485.9C635.1 470.3 634.3 453.5 634.5 439.1C634.7 424.7 635.3 412.2 637.3 399.3C639.3 386.4 642.4 373.5 646.7 361.8C651 350.1 656.8 339.6 663 329C669.2 318.4 677.9 306.7 684.1 298.5C690.4 290.3 695.8 284.5 700.5 279.8C705.2 275.1 706 271.2 712.2 270.4Z" stroke-width="1.3"/>
<path d="M709.9 271.1C706.8 272.8 698.5 275.2 691.1 281C683.7 286.8 674 295.7 665.4 305.6C656.8 315.6 646.8 329.8 639.6 340.7C632.4 351.6 626.6 360.6 622.1 371.1C617.6 381.6 614.7 392.6 612.7 403.9C610.8 415.2 610.5 427.4 610.4 439.1C610.3 450.8 611 462.5 612 474.2C613 485.9 614.5 497.6 616.2 509.3C617.9 521 619.8 533.5 622.1 544.4C624.5 555.3 627.3 568.8 630.3 574.9C633.3 581 636.1 579.4 640 581C643.9 582.6 651.4 583.8 653.7 584.3"/>
<path d="M709.9 271.1L712.2 270.4"/>
<path d="M711.3 281.6C717.2 280.8 730.3 283.9 735.3 285.9C740.4 287.9 739.5 288.1 741.9 293.6C744.2 299 747.3 309.1 749.5 318.7C751.6 328.3 753.5 340.4 754.9 351.3C756.2 362.2 757 373.1 757.6 384C758.1 394.8 758.5 405.7 758.2 416.6C758 427.5 757.3 438.4 756 449.3C754.7 460.2 753.3 471.8 750.6 482C747.9 492.1 744.4 501.5 739.7 510.3C735 519 728.8 526.6 722.2 534.3C715.7 541.9 707.7 550 700.5 556C693.2 562 684.9 566.9 678.7 570.2C672.5 573.4 667.1 575.1 663.5 575.6C659.8 576.2 659.1 576.4 656.9 573.5C654.8 570.6 652.4 566.2 650.4 558.2C648.4 550.2 646.6 538.2 644.9 525.5C643.3 512.8 641.5 496.5 640.6 482C639.6 467.5 638.9 451.9 639.1 438.5C639.3 425 639.8 413.4 641.7 401.4C643.6 389.5 646.4 377.5 650.4 366.6C654.4 355.7 659.8 345.9 665.6 336.1C671.4 326.3 679.4 315.3 685.2 307.7C691 300.1 696.1 294.7 700.5 290.3C704.8 286 705.5 282.3 711.3 281.6Z"/>
<ellipse cx="703" cy="431" rx="52.9" ry="123" transform="rotate(11 703 431)"/>
<ellipse cx="703" cy="431" rx="51" ry="118.5" transform="rotate(11 703 431)"/>
<ellipse cx="708.7" cy="432.5" rx="35.9" ry="81.5" transform="rotate(11 708.7 432.5)"/>
<ellipse cx="708.7" cy="432.5" rx="33.9" ry="77" transform="rotate(11 708.7 432.5)"/>
<ellipse cx="698" cy="432" rx="13.8" ry="30" transform="rotate(11 698 432)" stroke-width="1.4"/>
<ellipse cx="700" cy="432.3" rx="11" ry="24" transform="rotate(11 700 432.3)"/>
<path d="M687.2 463A15.2 33 11 0 1 704.8 400.2"/>
<path d="M748.9 454.3L743.4 446.7L741.8 453.1L746.8 462.1"/>
<path d="M739.2 484.9L736.6 469.1L734.4 474.8L736.3 491.8"/>
<path d="M726.5 511.1L727.6 488.5L724.8 493.1L723.1 516.6"/>
<path d="M711.9 530.8L717 503.4L713.9 506.5L708.2 534.4"/>
<path d="M696.7 542.4L705.7 512.6L702.6 514L692.9 543.9"/>
<path d="M681.9 545L694.7 515.2L691.8 514.8L678.5 544.3"/>
<path d="M668.8 538.4L684.8 511.2L682.4 508.9L666 535.4"/>
<path d="M658.5 523.1L676.9 500.8L675.1 496.9L656.5 518.1"/>
<path d="M651.8 500.3L671.5 484.8L670.5 479.6L650.8 493.8"/>
<path d="M679.5 350.9L689.8 376.5L692.6 371.9L682.9 345.4"/>
<path d="M694.1 331.2L700.4 361.6L703.5 358.5L697.8 327.6"/>
<path d="M709.3 319.6L711.7 352.4L714.8 351L713.1 318.1"/>
<path d="M724.1 317L722.7 349.8L725.6 350.2L727.5 317.7"/>
<path d="M737.2 323.6L732.6 353.8L735 356.1L740 326.6"/>
<path d="M747.5 338.9L740.5 364.2L742.3 368.1L749.5 343.9"/>
<path d="M754.2 361.7L745.9 380.2L746.9 385.4L755.2 368.2"/>
<path d="M756.7 390.1L748.3 400.4L748.4 406.5L756.7 397.7"/>
<path d="M754.9 421.9L747.4 423.2L746.6 429.6L753.8 429.8"/>
<path d="M723.9 485.3L707.2 454.8L704.8 458.3L720.5 490.4"/>
<path d="M708.5 502.5L700.1 463.2L697.5 464.7L704.8 504.6"/>
<path d="M693.2 505.8L692.7 465.4L690.4 464.6L689.9 504.5"/>
<path d="M680.9 494.6L686.7 461L685.1 458.1L678.8 490.1"/>
<path d="M674.1 471.2L683 450.9L682.5 446.3L673.5 464.4"/>
<path d="M674.2 440L682.5 437L683.2 431.8L675.2 432.3"/>
<path d="M681.1 407.4L685.3 422.1L687 417.3L683.6 400.2"/>
<path d="M693.5 379.7L690.8 409.2L693.2 405.7L696.9 374.6"/>
<path d="M708.9 362.5L697.9 400.8L700.5 399.3L712.6 360.4"/>
<path d="M724.2 359.2L705.3 398.6L707.6 399.4L727.5 360.5"/>
<path d="M736.5 370.4L711.3 403L712.9 405.9L738.6 374.9"/>
<path d="M743.3 393.8L715 413.1L715.5 417.7L743.9 400.6"/>
<ellipse cx="733" cy="290.5" rx="3" ry="6.5" transform="rotate(12 733 290.5)"/>
<ellipse cx="741.5" cy="292" rx="3" ry="7" transform="rotate(14 741.5 292)"/>
<ellipse cx="643" cy="392" rx="3" ry="6" transform="rotate(12 643 392)"/>
<ellipse cx="659.5" cy="565" rx="3" ry="6" transform="rotate(15 659.5 565)"/>
<ellipse cx="750" cy="470" rx="2.5" ry="6" transform="rotate(12 750 470)"/>
<path d="M704 296L729 283L728 301L704 296"/>
<path d="M662 556L690 565L664 577L662 556"/>
<path d="M642 377L650 352L655 372"/>
<path d="M706.4 421.5L794.2 434.4L796.5 439.1L816.4 444.9L826 445L830 453L826 461L815.3 457.8L788.3 453.6L786 454.3L702.9 442.6Q699 432 706.4 421.5Z" fill="#fff" stroke="none"/>
<path d="M706.4 421.5L794.2 434.4"/>
<path d="M702.9 442.6L786 454.3"/>
<path d="M794.2 434.4L797 437L796.5 439.1"/>
<path d="M786 454.3L788.3 453.6"/>
<path d="M786 454.3Q783 446 786.5 436.5L794.2 434.4"/>
<path d="M788.5 453.6Q786 447 789 439.5L796.5 439.1"/>
<path d="M796.5 439.1L816.4 444.9"/>
<path d="M788.3 453.6L815.3 457.8"/>
<path d="M818.2 459.3A4.2 8.7 10.7 1 1 821 444.5"/>
<path d="M819.4 460.2A4.2 8.7 10.7 1 1 822.4 444.1"/>
<ellipse cx="825.8" cy="453.1" rx="4.2" ry="8.7" transform="rotate(10.7 825.8 453.1)"/>
<path d="M819.1 443L827.4 444.6"/>
<path d="M815.9 460L824.2 461.6"/>
<path d="M703.5 442.7A5.5 11 10.7 0 1 707.6 421.1" stroke-width="1.4"/>
<path d="M455 513.3L467.5 650" stroke-dasharray="40 6 8 6"/>
<path d="M401.7 686.7L440 646L605 673.7L560 722.7"/>
<path d="M440 641L440 627L446.7 623.7L620 653.7L614 657.7L440 628.3"/>
<path d="M440 641L450 642.7L450 635L470 638.3L470 651L480 652.7L480 641L546.7 652.7L546.7 663.7L576.7 669L576.7 658.3L605 663"/>
<path d="M450.7 635.7q2 4 4 0q2 -4 4 0q2 4 4 0q2 -4 4 0q2 4 4 1"/>
<path d="M470.7 638.7q2 4 4 0q2 -4 4 0q2 4 4 1"/>
<path d="M548.3 653q2 4 4 0q2 -4 4 0q2 4 4 0q2 -4 4 0q2 4 4 1q2 -4 4 0q2 4 4 1"/>
<path d="M480 645L546.7 656.7"/>
<path d="M480 648.3L546.7 660" stroke-width="1.5"/>
<path d="M614 657.7L605 673.7"/>
<path d="M605 673.7L610.7 656Q616 651 620 656L626.7 692.7"/>
<path d="M614 657.7L622.7 694.3"/>
<path d="M623.3 667.7L661.7 673.7L666 677.7L666 682.7L650 697L640 698.3L596.7 691"/>
<path d="M666 677.7L650 692.7L640 694.3L626.7 692.7"/>
<path d="M650 692.7L650 697"/>
<ellipse cx="629" cy="679.3" rx="3" ry="2" />
<path d="M655 677L658.3 679.3"/>
<ellipse cx="444.3" cy="675.3" rx="6.5" ry="3.3" transform="rotate(8 444.3 675.3)"/>
<ellipse cx="444.3" cy="675.7" rx="4.5" ry="2" />
<ellipse cx="541" cy="692.7" rx="6.5" ry="3.3" transform="rotate(8 541 692.7)"/>
<ellipse cx="541" cy="693" rx="4.5" ry="2" />
<path d="M383.3 697.7L390.7 685.3L405 687.7L410 692.7L423.3 690.3L430 695L506.7 707.7L511.7 704.3L523.3 709.3L553.3 714.3L560 722.7L555 727.7"/>
<path d="M383.3 697.7L555 727.7" stroke-width="1.3"/>
<path d="M383.3 701.7L555 731"/>
<path d="M383.3 697.7L385 737.7"/>
<path d="M382.3 698.3L384 736"/>
<path d="M385 732.7L553.3 762.7"/>
<path d="M555 727.7Q556 754.3 568.3 769.3"/>
<path d="M560 722.7Q563.3 727.7 561.7 731"/>
<path d="M560 722.7L610 674.3"/>
<path d="M563.3 727.7L612.7 678.3"/>
<path d="M385 737.7L368.3 754.3L368.3 761L373.3 765L553.3 796L563.3 795L576 781L576 771L528.3 762.7"/>
<path d="M368.3 754.3L373.3 759.3L555 790.3L565 789.3L576 776"/>
<path d="M373.3 759.3L373.3 765"/>
<path d="M385 737.7L430 745"/>
<path d="M430 745L412.7 765"/>
<path d="M528.3 762.7L510 783.7" stroke-width="1.4"/>
<ellipse cx="404.3" cy="751.7" rx="8.5" ry="4.5" transform="rotate(8 404.3 751.7)"/>
<ellipse cx="404.7" cy="752.3" rx="5.5" ry="2.8" />
<ellipse cx="536" cy="775" rx="8.5" ry="4.5" transform="rotate(8 536 775)"/>
<ellipse cx="536.3" cy="775.7" rx="5.5" ry="2.8" />
<path d="M482 784L490.7 857.7"/>
<path d="M488.9 861L489.7 874"/>
<path d="M496.5 860.5L496.9 873"/>
<ellipse cx="492.7" cy="860.5" rx="3.8" ry="1.6"/>
<ellipse cx="493.7" cy="875" rx="6.8" ry="3"/>
<path d="M486.9 875L487.4 883"/>
<path d="M500.5 875L500.3 882.5"/>
<path d="M487.4 883A6.6 3.2 0 0 0 500.3 882.5"/>
<path d="M487.2 880.5A6.6 3.2 0 0 0 500.4 880"/>
<path d="M585.2 879L586 892"/>
<path d="M592.8 878.5L593.2 891"/>
<ellipse cx="589" cy="878.5" rx="3.8" ry="1.6"/>
<ellipse cx="590" cy="893" rx="6.8" ry="3"/>
<path d="M583.2 893L583.7 901"/>
<path d="M596.8 893L596.6 900.5"/>
<path d="M583.7 901A6.6 3.2 0 0 0 596.6 900.5"/>
<path d="M583.5 898.5A6.6 3.2 0 0 0 596.7 898"/>
<path d="M432.9 922L433.7 935"/>
<path d="M440.5 921.5L440.9 934"/>
<ellipse cx="436.7" cy="921.5" rx="3.8" ry="1.6"/>
<ellipse cx="437.7" cy="936" rx="6.8" ry="3"/>
<path d="M430.9 936L431.4 944"/>
<path d="M444.5 936L444.3 943.5"/>
<path d="M431.4 944A6.6 3.2 0 0 0 444.3 943.5"/>
<path d="M431.2 941.5A6.6 3.2 0 0 0 444.4 941"/>
<path d="M529.2 939L530 952"/>
<path d="M536.8 938.5L537.2 951"/>
<ellipse cx="533" cy="938.5" rx="3.8" ry="1.6"/>
<ellipse cx="534" cy="953" rx="6.8" ry="3"/>
<path d="M527.2 953L527.7 961"/>
<path d="M540.8 953L540.6 960.5"/>
<path d="M527.7 961A6.6 3.2 0 0 0 540.6 960.5"/>
<path d="M527.5 958.5A6.6 3.2 0 0 0 540.7 958"/></svg></body></html>
